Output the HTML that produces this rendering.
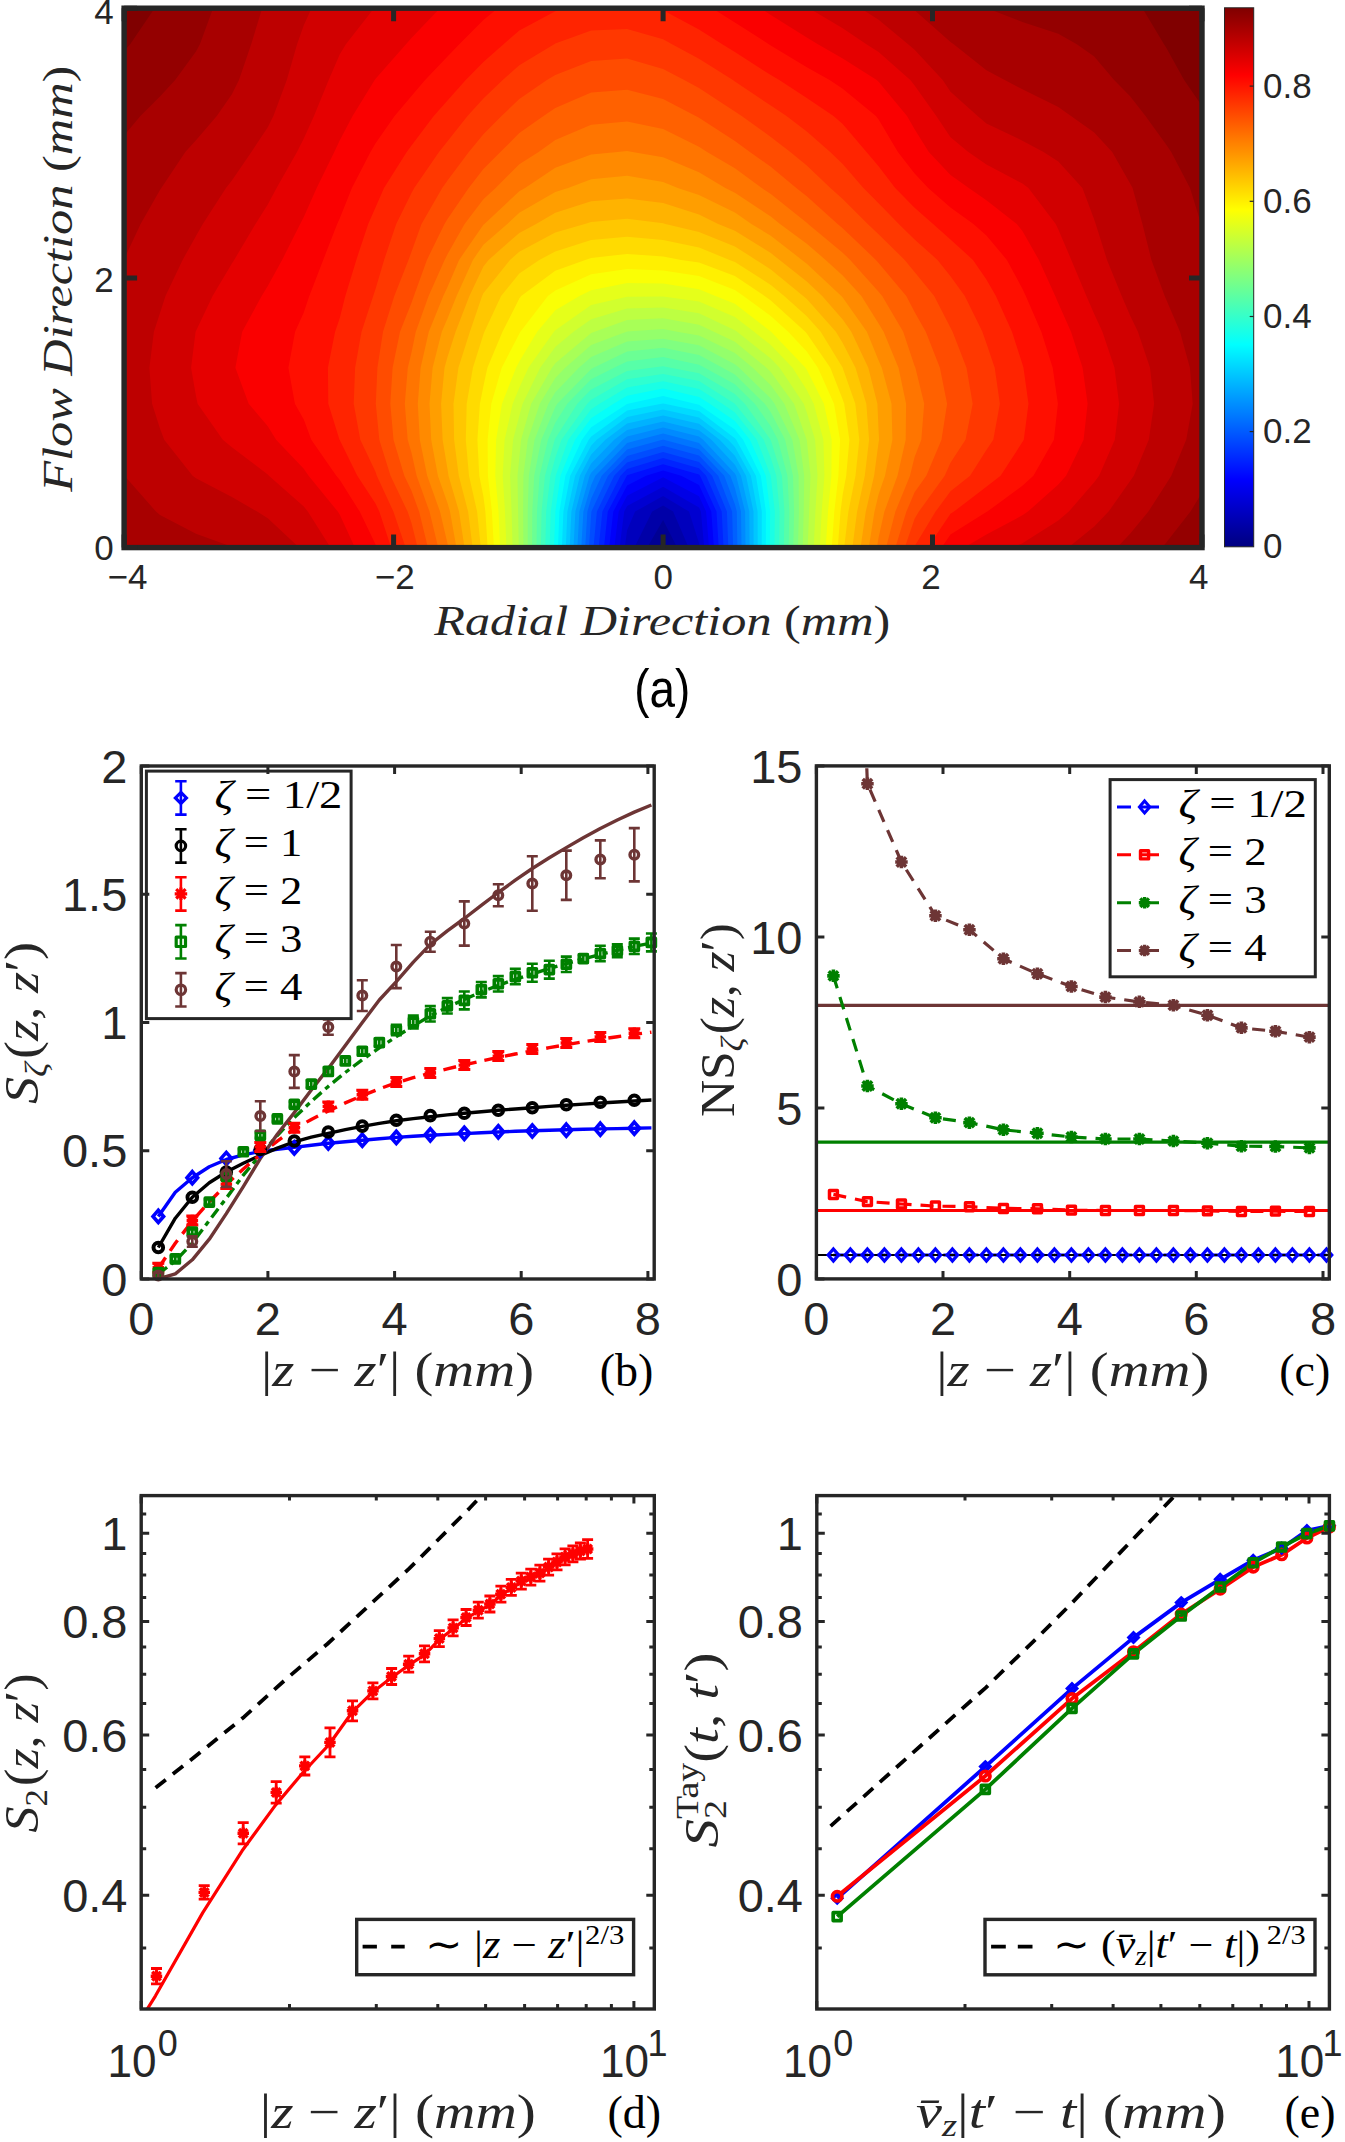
<!DOCTYPE html>
<html><head><meta charset="utf-8"><style>html,body{margin:0;padding:0;background:#fff;overflow:hidden}svg{display:block}</style></head><body>
<svg width="1345" height="2142" viewBox="0 0 1345 2142" font-family='"Liberation Sans", sans-serif'>
<clipPath id="ca"><rect x="124.1" y="8.2" width="1077.9" height="539.4"/></clipPath>
<g clip-path="url(#ca)">
<rect x="124.1" y="8.2" width="1077.9" height="539.4" fill="#000080"/>
<path d="M160 547.6L196 547.6L231.9 547.6L267.8 547.6L303.8 547.6L339.7 547.6L375.6 547.6L411.5 547.6L447.5 547.6L483.4 547.6L519.3 547.6L555.3 547.6L591.2 547.6L627.1 547.6L660.2 547.6L663.1 542.5L665.6 547.6L699 547.6L734.9 547.6L770.8 547.6L806.8 547.6L842.7 547.6L878.6 547.6L914.6 547.6L950.5 547.6L986.4 547.6L1022.4 547.6L1058.3 547.6L1094.2 547.6L1130.1 547.6L1166.1 547.6L1202 547.6L1202 511.6L1202 475.7L1202 439.7L1202 403.8L1202 367.8L1202 331.8L1202 295.9L1202 259.9L1202 224L1202 188L1202 152L1202 116.1L1202 80.1L1202 44.2L1202 8.2L1166.1 8.2L1130.1 8.2L1094.2 8.2L1058.3 8.2L1022.4 8.2L986.4 8.2L950.5 8.2L914.6 8.2L878.6 8.2L842.7 8.2L806.8 8.2L770.8 8.2L734.9 8.2L699 8.2L663.1 8.2L627.1 8.2L591.2 8.2L555.3 8.2L519.3 8.2L483.4 8.2L447.5 8.2L411.5 8.2L375.6 8.2L339.7 8.2L303.8 8.2L267.8 8.2L231.9 8.2L196 8.2L160 8.2L124.1 8.2L124.1 44.2L124.1 80.1L124.1 116.1L124.1 152L124.1 188L124.1 224L124.1 259.9L124.1 295.9L124.1 331.8L124.1 367.8L124.1 403.8L124.1 439.7L124.1 475.7L124.1 511.6L124.1 547.6Z" fill="#000094"/>
<path d="M160 547.6L196 547.6L231.9 547.6L267.8 547.6L303.8 547.6L339.7 547.6L375.6 547.6L411.5 547.6L447.5 547.6L483.4 547.6L519.3 547.6L555.3 547.6L591.2 547.6L627.1 547.6L647.3 547.6L663.1 519.9L677.1 547.6L699 547.6L734.9 547.6L770.8 547.6L806.8 547.6L842.7 547.6L878.6 547.6L914.6 547.6L950.5 547.6L986.4 547.6L1022.4 547.6L1058.3 547.6L1094.2 547.6L1130.1 547.6L1166.1 547.6L1202 547.6L1202 511.6L1202 475.7L1202 439.7L1202 403.8L1202 367.8L1202 331.8L1202 295.9L1202 259.9L1202 224L1202 188L1202 152L1202 116.1L1202 80.1L1202 44.2L1202 8.2L1166.1 8.2L1130.1 8.2L1094.2 8.2L1058.3 8.2L1022.4 8.2L986.4 8.2L950.5 8.2L914.6 8.2L878.6 8.2L842.7 8.2L806.8 8.2L770.8 8.2L734.9 8.2L699 8.2L663.1 8.2L627.1 8.2L591.2 8.2L555.3 8.2L519.3 8.2L483.4 8.2L447.5 8.2L411.5 8.2L375.6 8.2L339.7 8.2L303.8 8.2L267.8 8.2L231.9 8.2L196 8.2L160 8.2L124.1 8.2L124.1 44.2L124.1 80.1L124.1 116.1L124.1 152L124.1 188L124.1 224L124.1 259.9L124.1 295.9L124.1 331.8L124.1 367.8L124.1 403.8L124.1 439.7L124.1 475.7L124.1 511.6L124.1 547.6Z" fill="#0000a8"/>
<path d="M160 547.6L196 547.6L231.9 547.6L267.8 547.6L303.8 547.6L339.7 547.6L375.6 547.6L411.5 547.6L447.5 547.6L483.4 547.6L519.3 547.6L555.3 547.6L591.2 547.6L627.1 547.6L634.4 547.6L652.2 511.6L663.1 505.6L673.1 511.6L688.6 547.6L699 547.6L734.9 547.6L770.8 547.6L806.8 547.6L842.7 547.6L878.6 547.6L914.6 547.6L950.5 547.6L986.4 547.6L1022.4 547.6L1058.3 547.6L1094.2 547.6L1130.1 547.6L1166.1 547.6L1202 547.6L1202 511.6L1202 475.7L1202 439.7L1202 403.8L1202 367.8L1202 331.8L1202 295.9L1202 259.9L1202 224L1202 188L1202 152L1202 116.1L1202 80.1L1202 44.2L1202 8.2L1166.1 8.2L1130.1 8.2L1094.2 8.2L1058.3 8.2L1022.4 8.2L986.4 8.2L950.5 8.2L914.6 8.2L878.6 8.2L842.7 8.2L806.8 8.2L770.8 8.2L734.9 8.2L699 8.2L663.1 8.2L627.1 8.2L591.2 8.2L555.3 8.2L519.3 8.2L483.4 8.2L447.5 8.2L411.5 8.2L375.6 8.2L339.7 8.2L303.8 8.2L267.8 8.2L231.9 8.2L196 8.2L160 8.2L124.1 8.2L124.1 44.2L124.1 80.1L124.1 116.1L124.1 152L124.1 188L124.1 224L124.1 259.9L124.1 295.9L124.1 331.8L124.1 367.8L124.1 403.8L124.1 439.7L124.1 475.7L124.1 511.6L124.1 547.6Z" fill="#0000bd"/>
<path d="M160 547.6L196 547.6L231.9 547.6L267.8 547.6L303.8 547.6L339.7 547.6L375.6 547.6L411.5 547.6L447.5 547.6L483.4 547.6L519.3 547.6L555.3 547.6L591.2 547.6L624.8 547.6L627.1 530.2L635.1 511.6L663.1 496.1L689 511.6L699 543L699.4 547.6L734.9 547.6L770.8 547.6L806.8 547.6L842.7 547.6L878.6 547.6L914.6 547.6L950.5 547.6L986.4 547.6L1022.4 547.6L1058.3 547.6L1094.2 547.6L1130.1 547.6L1166.1 547.6L1202 547.6L1202 511.6L1202 475.7L1202 439.7L1202 403.8L1202 367.8L1202 331.8L1202 295.9L1202 259.9L1202 224L1202 188L1202 152L1202 116.1L1202 80.1L1202 44.2L1202 8.2L1166.1 8.2L1130.1 8.2L1094.2 8.2L1058.3 8.2L1022.4 8.2L986.4 8.2L950.5 8.2L914.6 8.2L878.6 8.2L842.7 8.2L806.8 8.2L770.8 8.2L734.9 8.2L699 8.2L663.1 8.2L627.1 8.2L591.2 8.2L555.3 8.2L519.3 8.2L483.4 8.2L447.5 8.2L411.5 8.2L375.6 8.2L339.7 8.2L303.8 8.2L267.8 8.2L231.9 8.2L196 8.2L160 8.2L124.1 8.2L124.1 44.2L124.1 80.1L124.1 116.1L124.1 152L124.1 188L124.1 224L124.1 259.9L124.1 295.9L124.1 331.8L124.1 367.8L124.1 403.8L124.1 439.7L124.1 475.7L124.1 511.6L124.1 547.6Z" fill="#0000d1"/>
<path d="M160 547.6L196 547.6L231.9 547.6L267.8 547.6L303.8 547.6L339.7 547.6L375.6 547.6L411.5 547.6L447.5 547.6L483.4 547.6L519.3 547.6L555.3 547.6L591.2 547.6L619.6 547.6L624.2 511.6L627.1 506.1L663.1 486.7L699 507.5L700.9 511.6L704.2 547.6L734.9 547.6L770.8 547.6L806.8 547.6L842.7 547.6L878.6 547.6L914.6 547.6L950.5 547.6L986.4 547.6L1022.4 547.6L1058.3 547.6L1094.2 547.6L1130.1 547.6L1166.1 547.6L1202 547.6L1202 511.6L1202 475.7L1202 439.7L1202 403.8L1202 367.8L1202 331.8L1202 295.9L1202 259.9L1202 224L1202 188L1202 152L1202 116.1L1202 80.1L1202 44.2L1202 8.2L1166.1 8.2L1130.1 8.2L1094.2 8.2L1058.3 8.2L1022.4 8.2L986.4 8.2L950.5 8.2L914.6 8.2L878.6 8.2L842.7 8.2L806.8 8.2L770.8 8.2L734.9 8.2L699 8.2L663.1 8.2L627.1 8.2L591.2 8.2L555.3 8.2L519.3 8.2L483.4 8.2L447.5 8.2L411.5 8.2L375.6 8.2L339.7 8.2L303.8 8.2L267.8 8.2L231.9 8.2L196 8.2L160 8.2L124.1 8.2L124.1 44.2L124.1 80.1L124.1 116.1L124.1 152L124.1 188L124.1 224L124.1 259.9L124.1 295.9L124.1 331.8L124.1 367.8L124.1 403.8L124.1 439.7L124.1 475.7L124.1 511.6L124.1 547.6Z" fill="#0000e6"/>
<path d="M160 547.6L196 547.6L231.9 547.6L267.8 547.6L303.8 547.6L339.7 547.6L375.6 547.6L411.5 547.6L447.5 547.6L483.4 547.6L519.3 547.6L555.3 547.6L591.2 547.6L614.4 547.6L618.7 511.6L627.1 495.8L663.1 477.2L699 496.2L706.1 511.6L709 547.6L734.9 547.6L770.8 547.6L806.8 547.6L842.7 547.6L878.6 547.6L914.6 547.6L950.5 547.6L986.4 547.6L1022.4 547.6L1058.3 547.6L1094.2 547.6L1130.1 547.6L1166.1 547.6L1202 547.6L1202 511.6L1202 475.7L1202 439.7L1202 403.8L1202 367.8L1202 331.8L1202 295.9L1202 259.9L1202 224L1202 188L1202 152L1202 116.1L1202 80.1L1202 44.2L1202 8.2L1166.1 8.2L1130.1 8.2L1094.2 8.2L1058.3 8.2L1022.4 8.2L986.4 8.2L950.5 8.2L914.6 8.2L878.6 8.2L842.7 8.2L806.8 8.2L770.8 8.2L734.9 8.2L699 8.2L663.1 8.2L627.1 8.2L591.2 8.2L555.3 8.2L519.3 8.2L483.4 8.2L447.5 8.2L411.5 8.2L375.6 8.2L339.7 8.2L303.8 8.2L267.8 8.2L231.9 8.2L196 8.2L160 8.2L124.1 8.2L124.1 44.2L124.1 80.1L124.1 116.1L124.1 152L124.1 188L124.1 224L124.1 259.9L124.1 295.9L124.1 331.8L124.1 367.8L124.1 403.8L124.1 439.7L124.1 475.7L124.1 511.6L124.1 547.6Z" fill="#0000fa"/>
<path d="M160 547.6L196 547.6L231.9 547.6L267.8 547.6L303.8 547.6L339.7 547.6L375.6 547.6L411.5 547.6L447.5 547.6L483.4 547.6L519.3 547.6L555.3 547.6L591.2 547.6L609.2 547.6L613.3 511.6L627.1 485.5L646.1 475.7L663.1 470.5L681.2 475.7L699 485L711.3 511.6L713.9 547.6L734.9 547.6L770.8 547.6L806.8 547.6L842.7 547.6L878.6 547.6L914.6 547.6L950.5 547.6L986.4 547.6L1022.4 547.6L1058.3 547.6L1094.2 547.6L1130.1 547.6L1166.1 547.6L1202 547.6L1202 511.6L1202 475.7L1202 439.7L1202 403.8L1202 367.8L1202 331.8L1202 295.9L1202 259.9L1202 224L1202 188L1202 152L1202 116.1L1202 80.1L1202 44.2L1202 8.2L1166.1 8.2L1130.1 8.2L1094.2 8.2L1058.3 8.2L1022.4 8.2L986.4 8.2L950.5 8.2L914.6 8.2L878.6 8.2L842.7 8.2L806.8 8.2L770.8 8.2L734.9 8.2L699 8.2L663.1 8.2L627.1 8.2L591.2 8.2L555.3 8.2L519.3 8.2L483.4 8.2L447.5 8.2L411.5 8.2L375.6 8.2L339.7 8.2L303.8 8.2L267.8 8.2L231.9 8.2L196 8.2L160 8.2L124.1 8.2L124.1 44.2L124.1 80.1L124.1 116.1L124.1 152L124.1 188L124.1 224L124.1 259.9L124.1 295.9L124.1 331.8L124.1 367.8L124.1 403.8L124.1 439.7L124.1 475.7L124.1 511.6L124.1 547.6Z" fill="#000fff"/>
<path d="M160 547.6L196 547.6L231.9 547.6L267.8 547.6L303.8 547.6L339.7 547.6L375.6 547.6L411.5 547.6L447.5 547.6L483.4 547.6L519.3 547.6L555.3 547.6L591.2 547.6L604 547.6L607.8 511.6L626.8 475.7L627.1 475.3L663.1 464.3L699 474.6L700 475.7L716.5 511.6L718.7 547.6L734.9 547.6L770.8 547.6L806.8 547.6L842.7 547.6L878.6 547.6L914.6 547.6L950.5 547.6L986.4 547.6L1022.4 547.6L1058.3 547.6L1094.2 547.6L1130.1 547.6L1166.1 547.6L1202 547.6L1202 511.6L1202 475.7L1202 439.7L1202 403.8L1202 367.8L1202 331.8L1202 295.9L1202 259.9L1202 224L1202 188L1202 152L1202 116.1L1202 80.1L1202 44.2L1202 8.2L1166.1 8.2L1130.1 8.2L1094.2 8.2L1058.3 8.2L1022.4 8.2L986.4 8.2L950.5 8.2L914.6 8.2L878.6 8.2L842.7 8.2L806.8 8.2L770.8 8.2L734.9 8.2L699 8.2L663.1 8.2L627.1 8.2L591.2 8.2L555.3 8.2L519.3 8.2L483.4 8.2L447.5 8.2L411.5 8.2L375.6 8.2L339.7 8.2L303.8 8.2L267.8 8.2L231.9 8.2L196 8.2L160 8.2L124.1 8.2L124.1 44.2L124.1 80.1L124.1 116.1L124.1 152L124.1 188L124.1 224L124.1 259.9L124.1 295.9L124.1 331.8L124.1 367.8L124.1 403.8L124.1 439.7L124.1 475.7L124.1 511.6L124.1 547.6Z" fill="#0024ff"/>
<path d="M160 547.6L196 547.6L231.9 547.6L267.8 547.6L303.8 547.6L339.7 547.6L375.6 547.6L411.5 547.6L447.5 547.6L483.4 547.6L519.3 547.6L555.3 547.6L591.2 547.6L598.7 547.6L602.4 511.6L620.5 475.7L627.1 468.9L663.1 458.1L699 468.3L706.1 475.7L721.7 511.6L723.5 547.6L734.9 547.6L770.8 547.6L806.8 547.6L842.7 547.6L878.6 547.6L914.6 547.6L950.5 547.6L986.4 547.6L1022.4 547.6L1058.3 547.6L1094.2 547.6L1130.1 547.6L1166.1 547.6L1202 547.6L1202 511.6L1202 475.7L1202 439.7L1202 403.8L1202 367.8L1202 331.8L1202 295.9L1202 259.9L1202 224L1202 188L1202 152L1202 116.1L1202 80.1L1202 44.2L1202 8.2L1166.1 8.2L1130.1 8.2L1094.2 8.2L1058.3 8.2L1022.4 8.2L986.4 8.2L950.5 8.2L914.6 8.2L878.6 8.2L842.7 8.2L806.8 8.2L770.8 8.2L734.9 8.2L699 8.2L663.1 8.2L627.1 8.2L591.2 8.2L555.3 8.2L519.3 8.2L483.4 8.2L447.5 8.2L411.5 8.2L375.6 8.2L339.7 8.2L303.8 8.2L267.8 8.2L231.9 8.2L196 8.2L160 8.2L124.1 8.2L124.1 44.2L124.1 80.1L124.1 116.1L124.1 152L124.1 188L124.1 224L124.1 259.9L124.1 295.9L124.1 331.8L124.1 367.8L124.1 403.8L124.1 439.7L124.1 475.7L124.1 511.6L124.1 547.6Z" fill="#0038ff"/>
<path d="M160 547.6L196 547.6L231.9 547.6L267.8 547.6L303.8 547.6L339.7 547.6L375.6 547.6L411.5 547.6L447.5 547.6L483.4 547.6L519.3 547.6L555.3 547.6L591.2 547.6L593.5 547.6L596.9 511.6L614.2 475.7L627.1 462.4L663.1 451.9L699 461.9L712.1 475.7L726.9 511.6L728.3 547.6L734.9 547.6L770.8 547.6L806.8 547.6L842.7 547.6L878.6 547.6L914.6 547.6L950.5 547.6L986.4 547.6L1022.4 547.6L1058.3 547.6L1094.2 547.6L1130.1 547.6L1166.1 547.6L1202 547.6L1202 511.6L1202 475.7L1202 439.7L1202 403.8L1202 367.8L1202 331.8L1202 295.9L1202 259.9L1202 224L1202 188L1202 152L1202 116.1L1202 80.1L1202 44.2L1202 8.2L1166.1 8.2L1130.1 8.2L1094.2 8.2L1058.3 8.2L1022.4 8.2L986.4 8.2L950.5 8.2L914.6 8.2L878.6 8.2L842.7 8.2L806.8 8.2L770.8 8.2L734.9 8.2L699 8.2L663.1 8.2L627.1 8.2L591.2 8.2L555.3 8.2L519.3 8.2L483.4 8.2L447.5 8.2L411.5 8.2L375.6 8.2L339.7 8.2L303.8 8.2L267.8 8.2L231.9 8.2L196 8.2L160 8.2L124.1 8.2L124.1 44.2L124.1 80.1L124.1 116.1L124.1 152L124.1 188L124.1 224L124.1 259.9L124.1 295.9L124.1 331.8L124.1 367.8L124.1 403.8L124.1 439.7L124.1 475.7L124.1 511.6L124.1 547.6Z" fill="#004dff"/>
<path d="M160 547.6L196 547.6L231.9 547.6L267.8 547.6L303.8 547.6L339.7 547.6L375.6 547.6L411.5 547.6L447.5 547.6L483.4 547.6L519.3 547.6L555.3 547.6L589 547.6L591.2 514.3L591.4 511.6L608 475.7L627.1 456L663.1 445.7L699 455.6L718.2 475.7L732.1 511.6L733.1 547.6L734.9 547.6L770.8 547.6L806.8 547.6L842.7 547.6L878.6 547.6L914.6 547.6L950.5 547.6L986.4 547.6L1022.4 547.6L1058.3 547.6L1094.2 547.6L1130.1 547.6L1166.1 547.6L1202 547.6L1202 511.6L1202 475.7L1202 439.7L1202 403.8L1202 367.8L1202 331.8L1202 295.9L1202 259.9L1202 224L1202 188L1202 152L1202 116.1L1202 80.1L1202 44.2L1202 8.2L1166.1 8.2L1130.1 8.2L1094.2 8.2L1058.3 8.2L1022.4 8.2L986.4 8.2L950.5 8.2L914.6 8.2L878.6 8.2L842.7 8.2L806.8 8.2L770.8 8.2L734.9 8.2L699 8.2L663.1 8.2L627.1 8.2L591.2 8.2L555.3 8.2L519.3 8.2L483.4 8.2L447.5 8.2L411.5 8.2L375.6 8.2L339.7 8.2L303.8 8.2L267.8 8.2L231.9 8.2L196 8.2L160 8.2L124.1 8.2L124.1 44.2L124.1 80.1L124.1 116.1L124.1 152L124.1 188L124.1 224L124.1 259.9L124.1 295.9L124.1 331.8L124.1 367.8L124.1 403.8L124.1 439.7L124.1 475.7L124.1 511.6L124.1 547.6Z" fill="#0061ff"/>
<path d="M160 547.6L196 547.6L231.9 547.6L267.8 547.6L303.8 547.6L339.7 547.6L375.6 547.6L411.5 547.6L447.5 547.6L483.4 547.6L519.3 547.6L555.3 547.6L585.2 547.6L587.4 511.6L591.2 498.6L601.7 475.7L627.1 449.5L662.4 439.7L663.1 439.6L663.7 439.7L699 449.3L724.2 475.7L734.9 504.2L736.8 511.6L737.4 547.6L770.8 547.6L806.8 547.6L842.7 547.6L878.6 547.6L914.6 547.6L950.5 547.6L986.4 547.6L1022.4 547.6L1058.3 547.6L1094.2 547.6L1130.1 547.6L1166.1 547.6L1202 547.6L1202 511.6L1202 475.7L1202 439.7L1202 403.8L1202 367.8L1202 331.8L1202 295.9L1202 259.9L1202 224L1202 188L1202 152L1202 116.1L1202 80.1L1202 44.2L1202 8.2L1166.1 8.2L1130.1 8.2L1094.2 8.2L1058.3 8.2L1022.4 8.2L986.4 8.2L950.5 8.2L914.6 8.2L878.6 8.2L842.7 8.2L806.8 8.2L770.8 8.2L734.9 8.2L699 8.2L663.1 8.2L627.1 8.2L591.2 8.2L555.3 8.2L519.3 8.2L483.4 8.2L447.5 8.2L411.5 8.2L375.6 8.2L339.7 8.2L303.8 8.2L267.8 8.2L231.9 8.2L196 8.2L160 8.2L124.1 8.2L124.1 44.2L124.1 80.1L124.1 116.1L124.1 152L124.1 188L124.1 224L124.1 259.9L124.1 295.9L124.1 331.8L124.1 367.8L124.1 403.8L124.1 439.7L124.1 475.7L124.1 511.6L124.1 547.6Z" fill="#0075ff"/>
<path d="M160 547.6L196 547.6L231.9 547.6L267.8 547.6L303.8 547.6L339.7 547.6L375.6 547.6L411.5 547.6L447.5 547.6L483.4 547.6L519.3 547.6L555.3 547.6L581.3 547.6L583.4 511.6L591.2 484.9L595.4 475.7L627.1 443.1L639.2 439.7L663.1 433.5L687 439.7L699 443L730.3 475.7L734.9 488L741 511.6L741.5 547.6L770.8 547.6L806.8 547.6L842.7 547.6L878.6 547.6L914.6 547.6L950.5 547.6L986.4 547.6L1022.4 547.6L1058.3 547.6L1094.2 547.6L1130.1 547.6L1166.1 547.6L1202 547.6L1202 511.6L1202 475.7L1202 439.7L1202 403.8L1202 367.8L1202 331.8L1202 295.9L1202 259.9L1202 224L1202 188L1202 152L1202 116.1L1202 80.1L1202 44.2L1202 8.2L1166.1 8.2L1130.1 8.2L1094.2 8.2L1058.3 8.2L1022.4 8.2L986.4 8.2L950.5 8.2L914.6 8.2L878.6 8.2L842.7 8.2L806.8 8.2L770.8 8.2L734.9 8.2L699 8.2L663.1 8.2L627.1 8.2L591.2 8.2L555.3 8.2L519.3 8.2L483.4 8.2L447.5 8.2L411.5 8.2L375.6 8.2L339.7 8.2L303.8 8.2L267.8 8.2L231.9 8.2L196 8.2L160 8.2L124.1 8.2L124.1 44.2L124.1 80.1L124.1 116.1L124.1 152L124.1 188L124.1 224L124.1 259.9L124.1 295.9L124.1 331.8L124.1 367.8L124.1 403.8L124.1 439.7L124.1 475.7L124.1 511.6L124.1 547.6Z" fill="#008aff"/>
<path d="M160 547.6L196 547.6L231.9 547.6L267.8 547.6L303.8 547.6L339.7 547.6L375.6 547.6L411.5 547.6L447.5 547.6L483.4 547.6L519.3 547.6L555.3 547.6L577.4 547.6L579.4 511.6L589.6 475.7L591.2 472.7L622.9 439.7L627.1 436.6L663.1 427.5L699 436.6L703.1 439.7L734.9 473.6L736.1 475.7L745.1 511.6L745.5 547.6L770.8 547.6L806.8 547.6L842.7 547.6L878.6 547.6L914.6 547.6L950.5 547.6L986.4 547.6L1022.4 547.6L1058.3 547.6L1094.2 547.6L1130.1 547.6L1166.1 547.6L1202 547.6L1202 511.6L1202 475.7L1202 439.7L1202 403.8L1202 367.8L1202 331.8L1202 295.9L1202 259.9L1202 224L1202 188L1202 152L1202 116.1L1202 80.1L1202 44.2L1202 8.2L1166.1 8.2L1130.1 8.2L1094.2 8.2L1058.3 8.2L1022.4 8.2L986.4 8.2L950.5 8.2L914.6 8.2L878.6 8.2L842.7 8.2L806.8 8.2L770.8 8.2L734.9 8.2L699 8.2L663.1 8.2L627.1 8.2L591.2 8.2L555.3 8.2L519.3 8.2L483.4 8.2L447.5 8.2L411.5 8.2L375.6 8.2L339.7 8.2L303.8 8.2L267.8 8.2L231.9 8.2L196 8.2L160 8.2L124.1 8.2L124.1 44.2L124.1 80.1L124.1 116.1L124.1 152L124.1 188L124.1 224L124.1 259.9L124.1 295.9L124.1 331.8L124.1 367.8L124.1 403.8L124.1 439.7L124.1 475.7L124.1 511.6L124.1 547.6Z" fill="#009eff"/>
<path d="M160 547.6L196 547.6L231.9 547.6L267.8 547.6L303.8 547.6L339.7 547.6L375.6 547.6L411.5 547.6L447.5 547.6L483.4 547.6L519.3 547.6L555.3 547.6L573.5 547.6L575.4 511.6L584.8 475.7L591.2 463.6L614.2 439.7L627.1 430L663.1 421.5L699 430.2L711.4 439.7L734.9 464.7L741 475.7L749.3 511.6L749.6 547.6L770.8 547.6L806.8 547.6L842.7 547.6L878.6 547.6L914.6 547.6L950.5 547.6L986.4 547.6L1022.4 547.6L1058.3 547.6L1094.2 547.6L1130.1 547.6L1166.1 547.6L1202 547.6L1202 511.6L1202 475.7L1202 439.7L1202 403.8L1202 367.8L1202 331.8L1202 295.9L1202 259.9L1202 224L1202 188L1202 152L1202 116.1L1202 80.1L1202 44.2L1202 8.2L1166.1 8.2L1130.1 8.2L1094.2 8.2L1058.3 8.2L1022.4 8.2L986.4 8.2L950.5 8.2L914.6 8.2L878.6 8.2L842.7 8.2L806.8 8.2L770.8 8.2L734.9 8.2L699 8.2L663.1 8.2L627.1 8.2L591.2 8.2L555.3 8.2L519.3 8.2L483.4 8.2L447.5 8.2L411.5 8.2L375.6 8.2L339.7 8.2L303.8 8.2L267.8 8.2L231.9 8.2L196 8.2L160 8.2L124.1 8.2L124.1 44.2L124.1 80.1L124.1 116.1L124.1 152L124.1 188L124.1 224L124.1 259.9L124.1 295.9L124.1 331.8L124.1 367.8L124.1 403.8L124.1 439.7L124.1 475.7L124.1 511.6L124.1 547.6Z" fill="#00b2ff"/>
<path d="M160 547.6L196 547.6L231.9 547.6L267.8 547.6L303.8 547.6L339.7 547.6L375.6 547.6L411.5 547.6L447.5 547.6L483.4 547.6L519.3 547.6L555.3 547.6L569.7 547.6L571.4 511.6L579.9 475.7L591.2 454.5L605.4 439.7L627.1 423.5L663.1 415.5L699 423.8L719.7 439.7L734.9 455.8L746 475.7L753.5 511.6L753.6 547.6L770.8 547.6L806.8 547.6L842.7 547.6L878.6 547.6L914.6 547.6L950.5 547.6L986.4 547.6L1022.4 547.6L1058.3 547.6L1094.2 547.6L1130.1 547.6L1166.1 547.6L1202 547.6L1202 511.6L1202 475.7L1202 439.7L1202 403.8L1202 367.8L1202 331.8L1202 295.9L1202 259.9L1202 224L1202 188L1202 152L1202 116.1L1202 80.1L1202 44.2L1202 8.2L1166.1 8.2L1130.1 8.2L1094.2 8.2L1058.3 8.2L1022.4 8.2L986.4 8.2L950.5 8.2L914.6 8.2L878.6 8.2L842.7 8.2L806.8 8.2L770.8 8.2L734.9 8.2L699 8.2L663.1 8.2L627.1 8.2L591.2 8.2L555.3 8.2L519.3 8.2L483.4 8.2L447.5 8.2L411.5 8.2L375.6 8.2L339.7 8.2L303.8 8.2L267.8 8.2L231.9 8.2L196 8.2L160 8.2L124.1 8.2L124.1 44.2L124.1 80.1L124.1 116.1L124.1 152L124.1 188L124.1 224L124.1 259.9L124.1 295.9L124.1 331.8L124.1 367.8L124.1 403.8L124.1 439.7L124.1 475.7L124.1 511.6L124.1 547.6Z" fill="#00c7ff"/>
<path d="M160 547.6L196 547.6L231.9 547.6L267.8 547.6L303.8 547.6L339.7 547.6L375.6 547.6L411.5 547.6L447.5 547.6L483.4 547.6L519.3 547.6L555.3 547.6L565.8 547.6L567.4 511.6L575.1 475.7L591.2 445.5L596.7 439.7L627.1 417L663.1 409.5L699 417.4L728.1 439.7L734.9 447L750.9 475.7L757.6 511.6L757.7 547.6L770.8 547.6L806.8 547.6L842.7 547.6L878.6 547.6L914.6 547.6L950.5 547.6L986.4 547.6L1022.4 547.6L1058.3 547.6L1094.2 547.6L1130.1 547.6L1166.1 547.6L1202 547.6L1202 511.6L1202 475.7L1202 439.7L1202 403.8L1202 367.8L1202 331.8L1202 295.9L1202 259.9L1202 224L1202 188L1202 152L1202 116.1L1202 80.1L1202 44.2L1202 8.2L1166.1 8.2L1130.1 8.2L1094.2 8.2L1058.3 8.2L1022.4 8.2L986.4 8.2L950.5 8.2L914.6 8.2L878.6 8.2L842.7 8.2L806.8 8.2L770.8 8.2L734.9 8.2L699 8.2L663.1 8.2L627.1 8.2L591.2 8.2L555.3 8.2L519.3 8.2L483.4 8.2L447.5 8.2L411.5 8.2L375.6 8.2L339.7 8.2L303.8 8.2L267.8 8.2L231.9 8.2L196 8.2L160 8.2L124.1 8.2L124.1 44.2L124.1 80.1L124.1 116.1L124.1 152L124.1 188L124.1 224L124.1 259.9L124.1 295.9L124.1 331.8L124.1 367.8L124.1 403.8L124.1 439.7L124.1 475.7L124.1 511.6L124.1 547.6Z" fill="#00dbff"/>
<path d="M160 547.6L196 547.6L231.9 547.6L267.8 547.6L303.8 547.6L339.7 547.6L375.6 547.6L411.5 547.6L447.5 547.6L483.4 547.6L519.3 547.6L555.3 547.6L561.9 547.6L563.4 511.6L570.2 475.7L588.7 439.7L591.2 436.4L627.1 410.5L661.4 403.8L663.1 403.4L664.6 403.8L699 411.1L734.9 438.2L736.2 439.7L755.9 475.7L761.8 511.6L761.7 547.6L770.8 547.6L806.8 547.6L842.7 547.6L878.6 547.6L914.6 547.6L950.5 547.6L986.4 547.6L1022.4 547.6L1058.3 547.6L1094.2 547.6L1130.1 547.6L1166.1 547.6L1202 547.6L1202 511.6L1202 475.7L1202 439.7L1202 403.8L1202 367.8L1202 331.8L1202 295.9L1202 259.9L1202 224L1202 188L1202 152L1202 116.1L1202 80.1L1202 44.2L1202 8.2L1166.1 8.2L1130.1 8.2L1094.2 8.2L1058.3 8.2L1022.4 8.2L986.4 8.2L950.5 8.2L914.6 8.2L878.6 8.2L842.7 8.2L806.8 8.2L770.8 8.2L734.9 8.2L699 8.2L663.1 8.2L627.1 8.2L591.2 8.2L555.3 8.2L519.3 8.2L483.4 8.2L447.5 8.2L411.5 8.2L375.6 8.2L339.7 8.2L303.8 8.2L267.8 8.2L231.9 8.2L196 8.2L160 8.2L124.1 8.2L124.1 44.2L124.1 80.1L124.1 116.1L124.1 152L124.1 188L124.1 224L124.1 259.9L124.1 295.9L124.1 331.8L124.1 367.8L124.1 403.8L124.1 439.7L124.1 475.7L124.1 511.6L124.1 547.6Z" fill="#00f0ff"/>
<path d="M160 547.6L196 547.6L231.9 547.6L267.8 547.6L303.8 547.6L339.7 547.6L375.6 547.6L411.5 547.6L447.5 547.6L483.4 547.6L519.3 547.6L555.3 547.6L558 547.6L559.4 511.6L565.4 475.7L581.9 439.7L591.2 427.3L627.1 403.9L628 403.8L663.1 396L694.7 403.8L699 404.7L734.9 429.6L743.1 439.7L760.8 475.7L765.9 511.6L765.8 547.6L770.8 547.6L806.8 547.6L842.7 547.6L878.6 547.6L914.6 547.6L950.5 547.6L986.4 547.6L1022.4 547.6L1058.3 547.6L1094.2 547.6L1130.1 547.6L1166.1 547.6L1202 547.6L1202 511.6L1202 475.7L1202 439.7L1202 403.8L1202 367.8L1202 331.8L1202 295.9L1202 259.9L1202 224L1202 188L1202 152L1202 116.1L1202 80.1L1202 44.2L1202 8.2L1166.1 8.2L1130.1 8.2L1094.2 8.2L1058.3 8.2L1022.4 8.2L986.4 8.2L950.5 8.2L914.6 8.2L878.6 8.2L842.7 8.2L806.8 8.2L770.8 8.2L734.9 8.2L699 8.2L663.1 8.2L627.1 8.2L591.2 8.2L555.3 8.2L519.3 8.2L483.4 8.2L447.5 8.2L411.5 8.2L375.6 8.2L339.7 8.2L303.8 8.2L267.8 8.2L231.9 8.2L196 8.2L160 8.2L124.1 8.2L124.1 44.2L124.1 80.1L124.1 116.1L124.1 152L124.1 188L124.1 224L124.1 259.9L124.1 295.9L124.1 331.8L124.1 367.8L124.1 403.8L124.1 439.7L124.1 475.7L124.1 511.6L124.1 547.6Z" fill="#05fffa"/>
<path d="M160 547.6L196 547.6L231.9 547.6L267.8 547.6L303.8 547.6L339.7 547.6L375.6 547.6L411.5 547.6L447.5 547.6L483.4 547.6L519.3 547.6L554 547.6L555.3 516L555.4 511.6L560.5 475.7L575.1 439.7L591.2 418.3L613.6 403.8L627.1 395.7L663.1 388.6L699 397L709.7 403.8L734.9 421L749.9 439.7L765.8 475.7L770.1 511.6L769.8 547.6L770.8 547.6L806.8 547.6L842.7 547.6L878.6 547.6L914.6 547.6L950.5 547.6L986.4 547.6L1022.4 547.6L1058.3 547.6L1094.2 547.6L1130.1 547.6L1166.1 547.6L1202 547.6L1202 511.6L1202 475.7L1202 439.7L1202 403.8L1202 367.8L1202 331.8L1202 295.9L1202 259.9L1202 224L1202 188L1202 152L1202 116.1L1202 80.1L1202 44.2L1202 8.2L1166.1 8.2L1130.1 8.2L1094.2 8.2L1058.3 8.2L1022.4 8.2L986.4 8.2L950.5 8.2L914.6 8.2L878.6 8.2L842.7 8.2L806.8 8.2L770.8 8.2L734.9 8.2L699 8.2L663.1 8.2L627.1 8.2L591.2 8.2L555.3 8.2L519.3 8.2L483.4 8.2L447.5 8.2L411.5 8.2L375.6 8.2L339.7 8.2L303.8 8.2L267.8 8.2L231.9 8.2L196 8.2L160 8.2L124.1 8.2L124.1 44.2L124.1 80.1L124.1 116.1L124.1 152L124.1 188L124.1 224L124.1 259.9L124.1 295.9L124.1 331.8L124.1 367.8L124.1 403.8L124.1 439.7L124.1 475.7L124.1 511.6L124.1 547.6Z" fill="#1affe5"/>
<path d="M160 547.6L196 547.6L231.9 547.6L267.8 547.6L303.8 547.6L339.7 547.6L375.6 547.6L411.5 547.6L447.5 547.6L483.4 547.6L519.3 547.6L549.7 547.6L550.8 511.6L555.3 478.8L555.7 475.7L568.3 439.7L591.2 409.3L599.6 403.8L627.1 387.4L663.1 381.2L699 389L722.3 403.8L734.9 412.4L756.8 439.7L770.7 475.7L770.8 476.8L774.8 511.6L774.4 547.6L806.8 547.6L842.7 547.6L878.6 547.6L914.6 547.6L950.5 547.6L986.4 547.6L1022.4 547.6L1058.3 547.6L1094.2 547.6L1130.1 547.6L1166.1 547.6L1202 547.6L1202 511.6L1202 475.7L1202 439.7L1202 403.8L1202 367.8L1202 331.8L1202 295.9L1202 259.9L1202 224L1202 188L1202 152L1202 116.1L1202 80.1L1202 44.2L1202 8.2L1166.1 8.2L1130.1 8.2L1094.2 8.2L1058.3 8.2L1022.4 8.2L986.4 8.2L950.5 8.2L914.6 8.2L878.6 8.2L842.7 8.2L806.8 8.2L770.8 8.2L734.9 8.2L699 8.2L663.1 8.2L627.1 8.2L591.2 8.2L555.3 8.2L519.3 8.2L483.4 8.2L447.5 8.2L411.5 8.2L375.6 8.2L339.7 8.2L303.8 8.2L267.8 8.2L231.9 8.2L196 8.2L160 8.2L124.1 8.2L124.1 44.2L124.1 80.1L124.1 116.1L124.1 152L124.1 188L124.1 224L124.1 259.9L124.1 295.9L124.1 331.8L124.1 367.8L124.1 403.8L124.1 439.7L124.1 475.7L124.1 511.6L124.1 547.6Z" fill="#2effd1"/>
<path d="M160 547.6L196 547.6L231.9 547.6L267.8 547.6L303.8 547.6L339.7 547.6L375.6 547.6L411.5 547.6L447.5 547.6L483.4 547.6L519.3 547.6L545.3 547.6L546.2 511.6L550.4 475.7L555.3 457.8L561.5 439.7L587.3 403.8L591.2 399.7L627.1 379.2L663.1 373.9L699 381.1L734.9 403.8L734.9 403.8L763.7 439.7L770.8 458.2L776.3 475.7L779.6 511.6L779.1 547.6L806.8 547.6L842.7 547.6L878.6 547.6L914.6 547.6L950.5 547.6L986.4 547.6L1022.4 547.6L1058.3 547.6L1094.2 547.6L1130.1 547.6L1166.1 547.6L1202 547.6L1202 511.6L1202 475.7L1202 439.7L1202 403.8L1202 367.8L1202 331.8L1202 295.9L1202 259.9L1202 224L1202 188L1202 152L1202 116.1L1202 80.1L1202 44.2L1202 8.2L1166.1 8.2L1130.1 8.2L1094.2 8.2L1058.3 8.2L1022.4 8.2L986.4 8.2L950.5 8.2L914.6 8.2L878.6 8.2L842.7 8.2L806.8 8.2L770.8 8.2L734.9 8.2L699 8.2L663.1 8.2L627.1 8.2L591.2 8.2L555.3 8.2L519.3 8.2L483.4 8.2L447.5 8.2L411.5 8.2L375.6 8.2L339.7 8.2L303.8 8.2L267.8 8.2L231.9 8.2L196 8.2L160 8.2L124.1 8.2L124.1 44.2L124.1 80.1L124.1 116.1L124.1 152L124.1 188L124.1 224L124.1 259.9L124.1 295.9L124.1 331.8L124.1 367.8L124.1 403.8L124.1 439.7L124.1 475.7L124.1 511.6L124.1 547.6Z" fill="#42ffbd"/>
<path d="M160 547.6L196 547.6L231.9 547.6L267.8 547.6L303.8 547.6L339.7 547.6L375.6 547.6L411.5 547.6L447.5 547.6L483.4 547.6L519.3 547.6L540.9 547.6L541.6 511.6L545 475.7L554.7 439.7L555.3 438.5L577.3 403.8L591.2 389.5L627.1 370.9L651.4 367.8L663.1 366.2L670.6 367.8L699 373.2L734.9 394L744.8 403.8L770.6 439.7L770.8 440.3L781.9 475.7L784.4 511.6L783.8 547.6L806.8 547.6L842.7 547.6L878.6 547.6L914.6 547.6L950.5 547.6L986.4 547.6L1022.4 547.6L1058.3 547.6L1094.2 547.6L1130.1 547.6L1166.1 547.6L1202 547.6L1202 511.6L1202 475.7L1202 439.7L1202 403.8L1202 367.8L1202 331.8L1202 295.9L1202 259.9L1202 224L1202 188L1202 152L1202 116.1L1202 80.1L1202 44.2L1202 8.2L1166.1 8.2L1130.1 8.2L1094.2 8.2L1058.3 8.2L1022.4 8.2L986.4 8.2L950.5 8.2L914.6 8.2L878.6 8.2L842.7 8.2L806.8 8.2L770.8 8.2L734.9 8.2L699 8.2L663.1 8.2L627.1 8.2L591.2 8.2L555.3 8.2L519.3 8.2L483.4 8.2L447.5 8.2L411.5 8.2L375.6 8.2L339.7 8.2L303.8 8.2L267.8 8.2L231.9 8.2L196 8.2L160 8.2L124.1 8.2L124.1 44.2L124.1 80.1L124.1 116.1L124.1 152L124.1 188L124.1 224L124.1 259.9L124.1 295.9L124.1 331.8L124.1 367.8L124.1 403.8L124.1 439.7L124.1 475.7L124.1 511.6L124.1 547.6Z" fill="#57ffa8"/>
<path d="M160 547.6L196 547.6L231.9 547.6L267.8 547.6L303.8 547.6L339.7 547.6L375.6 547.6L411.5 547.6L447.5 547.6L483.4 547.6L519.3 547.6L536.5 547.6L537 511.6L539.6 475.7L548 439.7L555.3 422.7L567.3 403.8L591.2 379.2L614.1 367.8L627.1 361.5L663.1 357L699 364.7L704.7 367.8L734.9 384.3L754.8 403.8L770.8 426.2L777.8 439.7L787.4 475.7L789.3 511.6L788.6 547.6L806.8 547.6L842.7 547.6L878.6 547.6L914.6 547.6L950.5 547.6L986.4 547.6L1022.4 547.6L1058.3 547.6L1094.2 547.6L1130.1 547.6L1166.1 547.6L1202 547.6L1202 511.6L1202 475.7L1202 439.7L1202 403.8L1202 367.8L1202 331.8L1202 295.9L1202 259.9L1202 224L1202 188L1202 152L1202 116.1L1202 80.1L1202 44.2L1202 8.2L1166.1 8.2L1130.1 8.2L1094.2 8.2L1058.3 8.2L1022.4 8.2L986.4 8.2L950.5 8.2L914.6 8.2L878.6 8.2L842.7 8.2L806.8 8.2L770.8 8.2L734.9 8.2L699 8.2L663.1 8.2L627.1 8.2L591.2 8.2L555.3 8.2L519.3 8.2L483.4 8.2L447.5 8.2L411.5 8.2L375.6 8.2L339.7 8.2L303.8 8.2L267.8 8.2L231.9 8.2L196 8.2L160 8.2L124.1 8.2L124.1 44.2L124.1 80.1L124.1 116.1L124.1 152L124.1 188L124.1 224L124.1 259.9L124.1 295.9L124.1 331.8L124.1 367.8L124.1 403.8L124.1 439.7L124.1 475.7L124.1 511.6L124.1 547.6Z" fill="#6bff94"/>
<path d="M160 547.6L196 547.6L231.9 547.6L267.8 547.6L303.8 547.6L339.7 547.6L375.6 547.6L411.5 547.6L447.5 547.6L483.4 547.6L519.3 547.6L532.1 547.6L532.3 511.6L534.2 475.7L541.3 439.7L555.3 406.9L557.3 403.8L591.2 368.9L593.5 367.8L627.1 351.6L663.1 347.8L699 355L722.6 367.8L734.9 374.5L764.8 403.8L770.8 412.3L785.1 439.7L793 475.7L794.1 511.6L793.3 547.6L806.8 547.6L842.7 547.6L878.6 547.6L914.6 547.6L950.5 547.6L986.4 547.6L1022.4 547.6L1058.3 547.6L1094.2 547.6L1130.1 547.6L1166.1 547.6L1202 547.6L1202 511.6L1202 475.7L1202 439.7L1202 403.8L1202 367.8L1202 331.8L1202 295.9L1202 259.9L1202 224L1202 188L1202 152L1202 116.1L1202 80.1L1202 44.2L1202 8.2L1166.1 8.2L1130.1 8.2L1094.2 8.2L1058.3 8.2L1022.4 8.2L986.4 8.2L950.5 8.2L914.6 8.2L878.6 8.2L842.7 8.2L806.8 8.2L770.8 8.2L734.9 8.2L699 8.2L663.1 8.2L627.1 8.2L591.2 8.2L555.3 8.2L519.3 8.2L483.4 8.2L447.5 8.2L411.5 8.2L375.6 8.2L339.7 8.2L303.8 8.2L267.8 8.2L231.9 8.2L196 8.2L160 8.2L124.1 8.2L124.1 44.2L124.1 80.1L124.1 116.1L124.1 152L124.1 188L124.1 224L124.1 259.9L124.1 295.9L124.1 331.8L124.1 367.8L124.1 403.8L124.1 439.7L124.1 475.7L124.1 511.6L124.1 547.6Z" fill="#80ff80"/>
<path d="M160 547.6L196 547.6L231.9 547.6L267.8 547.6L303.8 547.6L339.7 547.6L375.6 547.6L411.5 547.6L447.5 547.6L483.4 547.6L519.3 547.6L527.7 547.6L527.7 511.6L528.8 475.7L534.6 439.7L548.4 403.8L555.3 392.3L578.9 367.8L591.2 357.1L627.1 341.6L663.1 338.7L699 345.3L734.9 364.3L739.2 367.8L770.8 398.6L774.6 403.8L792.3 439.7L798.6 475.7L798.9 511.6L798 547.6L806.8 547.6L842.7 547.6L878.6 547.6L914.6 547.6L950.5 547.6L986.4 547.6L1022.4 547.6L1058.3 547.6L1094.2 547.6L1130.1 547.6L1166.1 547.6L1202 547.6L1202 511.6L1202 475.7L1202 439.7L1202 403.8L1202 367.8L1202 331.8L1202 295.9L1202 259.9L1202 224L1202 188L1202 152L1202 116.1L1202 80.1L1202 44.2L1202 8.2L1166.1 8.2L1130.1 8.2L1094.2 8.2L1058.3 8.2L1022.4 8.2L986.4 8.2L950.5 8.2L914.6 8.2L878.6 8.2L842.7 8.2L806.8 8.2L770.8 8.2L734.9 8.2L699 8.2L663.1 8.2L627.1 8.2L591.2 8.2L555.3 8.2L519.3 8.2L483.4 8.2L447.5 8.2L411.5 8.2L375.6 8.2L339.7 8.2L303.8 8.2L267.8 8.2L231.9 8.2L196 8.2L160 8.2L124.1 8.2L124.1 44.2L124.1 80.1L124.1 116.1L124.1 152L124.1 188L124.1 224L124.1 259.9L124.1 295.9L124.1 331.8L124.1 367.8L124.1 403.8L124.1 439.7L124.1 475.7L124.1 511.6L124.1 547.6Z" fill="#94ff6b"/>
<path d="M160 547.6L196 547.6L231.9 547.6L267.8 547.6L303.8 547.6L339.7 547.6L375.6 547.6L411.5 547.6L447.5 547.6L483.4 547.6L519.3 547.6L523.4 547.6L523.1 511.6L523.4 475.7L527.8 439.7L539.8 403.8L555.3 378.1L565.2 367.8L591.2 345.1L626.5 331.8L627.1 331.6L663.1 329.1L677.3 331.8L699 335.6L734.9 353L752.8 367.8L770.8 385.3L784.3 403.8L799.5 439.7L804.2 475.7L803.7 511.6L802.8 547.6L806.8 547.6L842.7 547.6L878.6 547.6L914.6 547.6L950.5 547.6L986.4 547.6L1022.4 547.6L1058.3 547.6L1094.2 547.6L1130.1 547.6L1166.1 547.6L1202 547.6L1202 511.6L1202 475.7L1202 439.7L1202 403.8L1202 367.8L1202 331.8L1202 295.9L1202 259.9L1202 224L1202 188L1202 152L1202 116.1L1202 80.1L1202 44.2L1202 8.2L1166.1 8.2L1130.1 8.2L1094.2 8.2L1058.3 8.2L1022.4 8.2L986.4 8.2L950.5 8.2L914.6 8.2L878.6 8.2L842.7 8.2L806.8 8.2L770.8 8.2L734.9 8.2L699 8.2L663.1 8.2L627.1 8.2L591.2 8.2L555.3 8.2L519.3 8.2L483.4 8.2L447.5 8.2L411.5 8.2L375.6 8.2L339.7 8.2L303.8 8.2L267.8 8.2L231.9 8.2L196 8.2L160 8.2L124.1 8.2L124.1 44.2L124.1 80.1L124.1 116.1L124.1 152L124.1 188L124.1 224L124.1 259.9L124.1 295.9L124.1 331.8L124.1 367.8L124.1 403.8L124.1 439.7L124.1 475.7L124.1 511.6L124.1 547.6Z" fill="#a8ff57"/>
<path d="M160 547.6L196 547.6L231.9 547.6L267.8 547.6L303.8 547.6L339.7 547.6L375.6 547.6L411.5 547.6L447.5 547.6L483.4 547.6L518.8 547.6L518.1 511.6L517.5 475.7L519.3 458.4L521.1 439.7L531.2 403.8L552 367.8L555.3 363.2L591.2 333.1L594.5 331.8L627.1 320L663.1 318.3L699 324.8L713.8 331.8L734.9 341.7L766.5 367.8L770.8 372.1L794 403.8L806.7 439.7L806.8 440L810.5 475.7L809.1 511.6L807.7 547.6L842.7 547.6L878.6 547.6L914.6 547.6L950.5 547.6L986.4 547.6L1022.4 547.6L1058.3 547.6L1094.2 547.6L1130.1 547.6L1166.1 547.6L1202 547.6L1202 511.6L1202 475.7L1202 439.7L1202 403.8L1202 367.8L1202 331.8L1202 295.9L1202 259.9L1202 224L1202 188L1202 152L1202 116.1L1202 80.1L1202 44.2L1202 8.2L1166.1 8.2L1130.1 8.2L1094.2 8.2L1058.3 8.2L1022.4 8.2L986.4 8.2L950.5 8.2L914.6 8.2L878.6 8.2L842.7 8.2L806.8 8.2L770.8 8.2L734.9 8.2L699 8.2L663.1 8.2L627.1 8.2L591.2 8.2L555.3 8.2L519.3 8.2L483.4 8.2L447.5 8.2L411.5 8.2L375.6 8.2L339.7 8.2L303.8 8.2L267.8 8.2L231.9 8.2L196 8.2L160 8.2L124.1 8.2L124.1 44.2L124.1 80.1L124.1 116.1L124.1 152L124.1 188L124.1 224L124.1 259.9L124.1 295.9L124.1 331.8L124.1 367.8L124.1 403.8L124.1 439.7L124.1 475.7L124.1 511.6L124.1 547.6Z" fill="#bdff42"/>
<path d="M160 547.6L196 547.6L231.9 547.6L267.8 547.6L303.8 547.6L339.7 547.6L375.6 547.6L411.5 547.6L447.5 547.6L483.4 547.6L512.6 547.6L511.6 511.6L510.1 475.7L513.1 439.7L519.3 416.1L522.6 403.8L540.2 367.8L555.3 346.9L573.5 331.8L591.2 319.2L627.1 308.4L663.1 307.4L699 313.2L734.9 330.2L737.1 331.8L770.8 358.6L779.6 367.8L803.7 403.8L806.8 412.4L815.1 439.7L817.5 475.7L815.4 511.6L813.7 547.6L842.7 547.6L878.6 547.6L914.6 547.6L950.5 547.6L986.4 547.6L1022.4 547.6L1058.3 547.6L1094.2 547.6L1130.1 547.6L1166.1 547.6L1202 547.6L1202 511.6L1202 475.7L1202 439.7L1202 403.8L1202 367.8L1202 331.8L1202 295.9L1202 259.9L1202 224L1202 188L1202 152L1202 116.1L1202 80.1L1202 44.2L1202 8.2L1166.1 8.2L1130.1 8.2L1094.2 8.2L1058.3 8.2L1022.4 8.2L986.4 8.2L950.5 8.2L914.6 8.2L878.6 8.2L842.7 8.2L806.8 8.2L770.8 8.2L734.9 8.2L699 8.2L663.1 8.2L627.1 8.2L591.2 8.2L555.3 8.2L519.3 8.2L483.4 8.2L447.5 8.2L411.5 8.2L375.6 8.2L339.7 8.2L303.8 8.2L267.8 8.2L231.9 8.2L196 8.2L160 8.2L124.1 8.2L124.1 44.2L124.1 80.1L124.1 116.1L124.1 152L124.1 188L124.1 224L124.1 259.9L124.1 295.9L124.1 331.8L124.1 367.8L124.1 403.8L124.1 439.7L124.1 475.7L124.1 511.6L124.1 547.6Z" fill="#d1ff2e"/>
<path d="M160 547.6L196 547.6L231.9 547.6L267.8 547.6L303.8 547.6L339.7 547.6L375.6 547.6L411.5 547.6L447.5 547.6L483.4 547.6L506.4 547.6L505 511.6L502.7 475.7L504.6 439.7L512.7 403.8L519.3 387.8L528.4 367.8L553.9 331.8L555.3 330.3L591.2 305.1L627.1 296.8L663.1 296.6L699 301.6L734.9 316.9L754.1 331.8L770.8 345.1L792.6 367.8L806.8 389.9L813.7 403.8L823.4 439.7L824.4 475.7L821.7 511.6L819.8 547.6L842.7 547.6L878.6 547.6L914.6 547.6L950.5 547.6L986.4 547.6L1022.4 547.6L1058.3 547.6L1094.2 547.6L1130.1 547.6L1166.1 547.6L1202 547.6L1202 511.6L1202 475.7L1202 439.7L1202 403.8L1202 367.8L1202 331.8L1202 295.9L1202 259.9L1202 224L1202 188L1202 152L1202 116.1L1202 80.1L1202 44.2L1202 8.2L1166.1 8.2L1130.1 8.2L1094.2 8.2L1058.3 8.2L1022.4 8.2L986.4 8.2L950.5 8.2L914.6 8.2L878.6 8.2L842.7 8.2L806.8 8.2L770.8 8.2L734.9 8.2L699 8.2L663.1 8.2L627.1 8.2L591.2 8.2L555.3 8.2L519.3 8.2L483.4 8.2L447.5 8.2L411.5 8.2L375.6 8.2L339.7 8.2L303.8 8.2L267.8 8.2L231.9 8.2L196 8.2L160 8.2L124.1 8.2L124.1 44.2L124.1 80.1L124.1 116.1L124.1 152L124.1 188L124.1 224L124.1 259.9L124.1 295.9L124.1 331.8L124.1 367.8L124.1 403.8L124.1 439.7L124.1 475.7L124.1 511.6L124.1 547.6Z" fill="#e5ff1a"/>
<path d="M160 547.6L196 547.6L231.9 547.6L267.8 547.6L303.8 547.6L339.7 547.6L375.6 547.6L411.5 547.6L447.5 547.6L483.4 547.6L500.1 547.6L498.5 511.6L495.3 475.7L496.1 439.7L502 403.8L516.1 367.8L519.3 361.5L537.2 331.8L555.3 310.3L579.5 295.9L591.2 290.3L627.1 283L663.1 283.6L699 289.2L715.4 295.9L734.9 303.7L770.8 331.6L771.1 331.8L805.5 367.8L806.8 369.8L823.9 403.8L831.7 439.7L831.4 475.7L828 511.6L825.8 547.6L842.7 547.6L878.6 547.6L914.6 547.6L950.5 547.6L986.4 547.6L1022.4 547.6L1058.3 547.6L1094.2 547.6L1130.1 547.6L1166.1 547.6L1202 547.6L1202 511.6L1202 475.7L1202 439.7L1202 403.8L1202 367.8L1202 331.8L1202 295.9L1202 259.9L1202 224L1202 188L1202 152L1202 116.1L1202 80.1L1202 44.2L1202 8.2L1166.1 8.2L1130.1 8.2L1094.2 8.2L1058.3 8.2L1022.4 8.2L986.4 8.2L950.5 8.2L914.6 8.2L878.6 8.2L842.7 8.2L806.8 8.2L770.8 8.2L734.9 8.2L699 8.2L663.1 8.2L627.1 8.2L591.2 8.2L555.3 8.2L519.3 8.2L483.4 8.2L447.5 8.2L411.5 8.2L375.6 8.2L339.7 8.2L303.8 8.2L267.8 8.2L231.9 8.2L196 8.2L160 8.2L124.1 8.2L124.1 44.2L124.1 80.1L124.1 116.1L124.1 152L124.1 188L124.1 224L124.1 259.9L124.1 295.9L124.1 331.8L124.1 367.8L124.1 403.8L124.1 439.7L124.1 475.7L124.1 511.6L124.1 547.6Z" fill="#faff05"/>
<path d="M160 547.6L196 547.6L231.9 547.6L267.8 547.6L303.8 547.6L339.7 547.6L375.6 547.6L411.5 547.6L447.5 547.6L483.4 547.6L493.9 547.6L491.9 511.6L487.9 475.7L487.6 439.7L491.3 403.8L501.7 367.8L519.3 333.7L520.4 331.8L547.9 295.9L555.3 290.5L591.2 274.3L627.1 269L663.1 270.4L699 275.9L734.9 290.1L743.5 295.9L770.8 316L788.2 331.8L806.8 351.5L817.9 367.8L834 403.8L840.1 439.7L838.4 475.7L834.3 511.6L831.8 547.6L842.7 547.6L878.6 547.6L914.6 547.6L950.5 547.6L986.4 547.6L1022.4 547.6L1058.3 547.6L1094.2 547.6L1130.1 547.6L1166.1 547.6L1202 547.6L1202 511.6L1202 475.7L1202 439.7L1202 403.8L1202 367.8L1202 331.8L1202 295.9L1202 259.9L1202 224L1202 188L1202 152L1202 116.1L1202 80.1L1202 44.2L1202 8.2L1166.1 8.2L1130.1 8.2L1094.2 8.2L1058.3 8.2L1022.4 8.2L986.4 8.2L950.5 8.2L914.6 8.2L878.6 8.2L842.7 8.2L806.8 8.2L770.8 8.2L734.9 8.2L699 8.2L663.1 8.2L627.1 8.2L591.2 8.2L555.3 8.2L519.3 8.2L483.4 8.2L447.5 8.2L411.5 8.2L375.6 8.2L339.7 8.2L303.8 8.2L267.8 8.2L231.9 8.2L196 8.2L160 8.2L124.1 8.2L124.1 44.2L124.1 80.1L124.1 116.1L124.1 152L124.1 188L124.1 224L124.1 259.9L124.1 295.9L124.1 331.8L124.1 367.8L124.1 403.8L124.1 439.7L124.1 475.7L124.1 511.6L124.1 547.6Z" fill="#fff000"/>
<path d="M160 547.6L196 547.6L231.9 547.6L267.8 547.6L303.8 547.6L339.7 547.6L375.6 547.6L411.5 547.6L447.5 547.6L483.4 547.6L487.6 547.6L485.4 511.6L483.4 496.2L479.3 475.7L477.4 439.7L479.9 403.8L483.4 386.2L487.4 367.8L502.5 331.8L519.3 298.5L521.2 295.9L555.3 270.8L585.3 259.9L591.2 258L627.1 253.9L663.1 256.5L681.2 259.9L699 262.6L734.9 276L764.6 295.9L770.8 300.5L805.3 331.8L806.8 333.4L830.3 367.8L842.7 399.4L844.2 403.8L849.4 439.7L846.2 475.7L842.7 494.5L840.5 511.6L837.8 547.6L842.7 547.6L878.6 547.6L914.6 547.6L950.5 547.6L986.4 547.6L1022.4 547.6L1058.3 547.6L1094.2 547.6L1130.1 547.6L1166.1 547.6L1202 547.6L1202 511.6L1202 475.7L1202 439.7L1202 403.8L1202 367.8L1202 331.8L1202 295.9L1202 259.9L1202 224L1202 188L1202 152L1202 116.1L1202 80.1L1202 44.2L1202 8.2L1166.1 8.2L1130.1 8.2L1094.2 8.2L1058.3 8.2L1022.4 8.2L986.4 8.2L950.5 8.2L914.6 8.2L878.6 8.2L842.7 8.2L806.8 8.2L770.8 8.2L734.9 8.2L699 8.2L663.1 8.2L627.1 8.2L591.2 8.2L555.3 8.2L519.3 8.2L483.4 8.2L447.5 8.2L411.5 8.2L375.6 8.2L339.7 8.2L303.8 8.2L267.8 8.2L231.9 8.2L196 8.2L160 8.2L124.1 8.2L124.1 44.2L124.1 80.1L124.1 116.1L124.1 152L124.1 188L124.1 224L124.1 259.9L124.1 295.9L124.1 331.8L124.1 367.8L124.1 403.8L124.1 439.7L124.1 475.7L124.1 511.6L124.1 547.6Z" fill="#ffdb00"/>
<path d="M160 547.6L196 547.6L231.9 547.6L267.8 547.6L303.8 547.6L339.7 547.6L375.6 547.6L411.5 547.6L447.5 547.6L480.8 547.6L477.1 511.6L469 475.7L465.8 439.7L466.7 403.8L472.9 367.8L483.4 334.5L484.4 331.8L501.1 295.9L519.3 273.5L539.3 259.9L555.3 251.5L591.2 240.1L627.1 236.8L663.1 239.9L699 247.5L729.5 259.9L734.9 261.9L770.8 284.9L784.2 295.9L806.8 316.2L820.7 331.8L842.7 367.8L842.7 367.9L855.3 403.8L859.3 439.7L855.5 475.7L848.4 511.6L844.2 547.6L878.6 547.6L914.6 547.6L950.5 547.6L986.4 547.6L1022.4 547.6L1058.3 547.6L1094.2 547.6L1130.1 547.6L1166.1 547.6L1202 547.6L1202 511.6L1202 475.7L1202 439.7L1202 403.8L1202 367.8L1202 331.8L1202 295.9L1202 259.9L1202 224L1202 188L1202 152L1202 116.1L1202 80.1L1202 44.2L1202 8.2L1166.1 8.2L1130.1 8.2L1094.2 8.2L1058.3 8.2L1022.4 8.2L986.4 8.2L950.5 8.2L914.6 8.2L878.6 8.2L842.7 8.2L806.8 8.2L770.8 8.2L734.9 8.2L699 8.2L663.1 8.2L627.1 8.2L591.2 8.2L555.3 8.2L519.3 8.2L483.4 8.2L447.5 8.2L411.5 8.2L375.6 8.2L339.7 8.2L303.8 8.2L267.8 8.2L231.9 8.2L196 8.2L160 8.2L124.1 8.2L124.1 44.2L124.1 80.1L124.1 116.1L124.1 152L124.1 188L124.1 224L124.1 259.9L124.1 295.9L124.1 331.8L124.1 367.8L124.1 403.8L124.1 439.7L124.1 475.7L124.1 511.6L124.1 547.6Z" fill="#ffc700"/>
<path d="M160 547.6L196 547.6L231.9 547.6L267.8 547.6L303.8 547.6L339.7 547.6L375.6 547.6L411.5 547.6L447.5 547.6L472.6 547.6L468.1 511.6L458.8 475.7L454.1 439.7L453.5 403.8L458.4 367.8L469.9 331.8L482.1 295.9L483.4 293.2L510 259.9L519.3 251.7L555.3 232.6L584.8 224L591.2 221.9L627.1 218.8L663.1 223.3L665.4 224L699 231.9L734.9 246.4L756 259.9L770.8 269.4L803.2 295.9L806.8 299.1L835.9 331.8L842.7 343L855.5 367.8L866.3 403.8L869.1 439.7L864.8 475.7L857.1 511.6L852.4 547.6L878.6 547.6L914.6 547.6L950.5 547.6L986.4 547.6L1022.4 547.6L1058.3 547.6L1094.2 547.6L1130.1 547.6L1166.1 547.6L1202 547.6L1202 511.6L1202 475.7L1202 439.7L1202 403.8L1202 367.8L1202 331.8L1202 295.9L1202 259.9L1202 224L1202 188L1202 152L1202 116.1L1202 80.1L1202 44.2L1202 8.2L1166.1 8.2L1130.1 8.2L1094.2 8.2L1058.3 8.2L1022.4 8.2L986.4 8.2L950.5 8.2L914.6 8.2L878.6 8.2L842.7 8.2L806.8 8.2L770.8 8.2L734.9 8.2L699 8.2L663.1 8.2L627.1 8.2L591.2 8.2L555.3 8.2L519.3 8.2L483.4 8.2L447.5 8.2L411.5 8.2L375.6 8.2L339.7 8.2L303.8 8.2L267.8 8.2L231.9 8.2L196 8.2L160 8.2L124.1 8.2L124.1 44.2L124.1 80.1L124.1 116.1L124.1 152L124.1 188L124.1 224L124.1 259.9L124.1 295.9L124.1 331.8L124.1 367.8L124.1 403.8L124.1 439.7L124.1 475.7L124.1 511.6L124.1 547.6Z" fill="#ffb300"/>
<path d="M160 547.6L196 547.6L231.9 547.6L267.8 547.6L303.8 547.6L339.7 547.6L375.6 547.6L411.5 547.6L447.5 547.6L464.5 547.6L459 511.6L448.5 475.7L447.5 468.9L442.6 439.7L441.1 403.8L444.5 367.8L447.5 357L455.6 331.8L469.4 295.9L483.4 266.4L488.6 259.9L519.3 232.9L536.1 224L555.3 212.8L591.2 201.3L627.1 198.4L663.1 203.1L699 214.4L718.2 224L734.9 230.7L770.8 253.1L779.6 259.9L806.8 281.5L822.2 295.9L842.7 319.6L851.3 331.8L868.3 367.8L877.4 403.8L878.6 431L879.1 439.7L878.6 442.2L874.1 475.7L865.8 511.6L860.6 547.6L878.6 547.6L914.6 547.6L950.5 547.6L986.4 547.6L1022.4 547.6L1058.3 547.6L1094.2 547.6L1130.1 547.6L1166.1 547.6L1202 547.6L1202 511.6L1202 475.7L1202 439.7L1202 403.8L1202 367.8L1202 331.8L1202 295.9L1202 259.9L1202 224L1202 188L1202 152L1202 116.1L1202 80.1L1202 44.2L1202 8.2L1166.1 8.2L1130.1 8.2L1094.2 8.2L1058.3 8.2L1022.4 8.2L986.4 8.2L950.5 8.2L914.6 8.2L878.6 8.2L842.7 8.2L806.8 8.2L770.8 8.2L734.9 8.2L699 8.2L663.1 8.2L627.1 8.2L591.2 8.2L555.3 8.2L519.3 8.2L483.4 8.2L447.5 8.2L411.5 8.2L375.6 8.2L339.7 8.2L303.8 8.2L267.8 8.2L231.9 8.2L196 8.2L160 8.2L124.1 8.2L124.1 44.2L124.1 80.1L124.1 116.1L124.1 152L124.1 188L124.1 224L124.1 259.9L124.1 295.9L124.1 331.8L124.1 367.8L124.1 403.8L124.1 439.7L124.1 475.7L124.1 511.6L124.1 547.6Z" fill="#ff9e00"/>
<path d="M160 547.6L196 547.6L231.9 547.6L267.8 547.6L303.8 547.6L339.7 547.6L375.6 547.6L411.5 547.6L447.5 547.6L456.4 547.6L450 511.6L447.5 503L437.9 475.7L431.2 439.7L429.5 403.8L432.6 367.8L441.8 331.8L447.5 318.4L456.6 295.9L472.9 259.9L483.4 244.8L507.3 224L519.3 212.7L555.3 192.1L568.1 188L591.2 179.3L627.1 175.8L663.1 181.9L677.8 188L699 195L734.9 212.6L751.4 224L770.8 235.7L801.9 259.9L806.8 263.8L841.3 295.9L842.7 297.5L866.9 331.8L878.6 360.5L881.8 367.8L891.5 403.8L892.4 439.7L885 475.7L878.6 494.3L874.5 511.6L868.8 547.6L878.6 547.6L914.6 547.6L950.5 547.6L986.4 547.6L1022.4 547.6L1058.3 547.6L1094.2 547.6L1130.1 547.6L1166.1 547.6L1202 547.6L1202 511.6L1202 475.7L1202 439.7L1202 403.8L1202 367.8L1202 331.8L1202 295.9L1202 259.9L1202 224L1202 188L1202 152L1202 116.1L1202 80.1L1202 44.2L1202 8.2L1166.1 8.2L1130.1 8.2L1094.2 8.2L1058.3 8.2L1022.4 8.2L986.4 8.2L950.5 8.2L914.6 8.2L878.6 8.2L842.7 8.2L806.8 8.2L770.8 8.2L734.9 8.2L699 8.2L663.1 8.2L627.1 8.2L591.2 8.2L555.3 8.2L519.3 8.2L483.4 8.2L447.5 8.2L411.5 8.2L375.6 8.2L339.7 8.2L303.8 8.2L267.8 8.2L231.9 8.2L196 8.2L160 8.2L124.1 8.2L124.1 44.2L124.1 80.1L124.1 116.1L124.1 152L124.1 188L124.1 224L124.1 259.9L124.1 295.9L124.1 331.8L124.1 367.8L124.1 403.8L124.1 439.7L124.1 475.7L124.1 511.6L124.1 547.6Z" fill="#ff8a00"/>
<path d="M160 547.6L196 547.6L231.9 547.6L267.8 547.6L303.8 547.6L339.7 547.6L375.6 547.6L411.5 547.6L447.5 547.6L448.3 547.6L447.5 543.4L440 511.6L427.2 475.7L419.8 439.7L417.8 403.8L420.6 367.8L428.8 331.8L443.3 295.9L447.5 286.9L459.1 259.9L483.4 224.8L484.4 224L519.3 191.2L525 188L555.3 167.7L591.2 154.5L617.6 152L627.1 151L632.4 152L663.1 157.2L699 172.2L725.3 188L734.9 192.7L770.8 216.5L780 224L806.8 243.7L825.6 259.9L842.7 275.5L861.4 295.9L878.6 323.6L883.6 331.8L898.5 367.8L906.1 403.8L905.7 439.7L897.5 475.7L884.4 511.6L878.6 537.6L877 547.6L878.6 547.6L914.6 547.6L950.5 547.6L986.4 547.6L1022.4 547.6L1058.3 547.6L1094.2 547.6L1130.1 547.6L1166.1 547.6L1202 547.6L1202 511.6L1202 475.7L1202 439.7L1202 403.8L1202 367.8L1202 331.8L1202 295.9L1202 259.9L1202 224L1202 188L1202 152L1202 116.1L1202 80.1L1202 44.2L1202 8.2L1166.1 8.2L1130.1 8.2L1094.2 8.2L1058.3 8.2L1022.4 8.2L986.4 8.2L950.5 8.2L914.6 8.2L878.6 8.2L842.7 8.2L806.8 8.2L770.8 8.2L734.9 8.2L699 8.2L663.1 8.2L627.1 8.2L591.2 8.2L555.3 8.2L519.3 8.2L483.4 8.2L447.5 8.2L411.5 8.2L375.6 8.2L339.7 8.2L303.8 8.2L267.8 8.2L231.9 8.2L196 8.2L160 8.2L124.1 8.2L124.1 44.2L124.1 80.1L124.1 116.1L124.1 152L124.1 188L124.1 224L124.1 259.9L124.1 295.9L124.1 331.8L124.1 367.8L124.1 403.8L124.1 439.7L124.1 475.7L124.1 511.6L124.1 547.6Z" fill="#ff7500"/>
<path d="M160 547.6L196 547.6L231.9 547.6L267.8 547.6L303.8 547.6L339.7 547.6L375.6 547.6L411.5 547.6L438.2 547.6L429.5 511.6L416.6 475.7L411.5 452.8L407.7 439.7L404.8 403.8L407.8 367.8L411.5 352.4L415.8 331.8L428.6 295.9L444.6 259.9L447.5 254.2L464.6 224L483.4 199.3L495.6 188L519.3 164.3L538.6 152L555.3 140L591.2 124.8L627.1 121.6L663.1 129L699 146.7L707.1 152L734.9 168.3L761.8 188L770.8 193.9L806.8 222.7L808.1 224L842.7 252.8L850.2 259.9L878.6 291.7L882.2 295.9L903.2 331.8L914.6 365.9L915.4 367.8L924.2 403.8L921.3 439.7L914.6 457L910 475.7L895.4 511.6L886.1 547.6L914.6 547.6L950.5 547.6L986.4 547.6L1022.4 547.6L1058.3 547.6L1094.2 547.6L1130.1 547.6L1166.1 547.6L1202 547.6L1202 511.6L1202 475.7L1202 439.7L1202 403.8L1202 367.8L1202 331.8L1202 295.9L1202 259.9L1202 224L1202 188L1202 152L1202 116.1L1202 80.1L1202 44.2L1202 8.2L1166.1 8.2L1130.1 8.2L1094.2 8.2L1058.3 8.2L1022.4 8.2L986.4 8.2L950.5 8.2L914.6 8.2L878.6 8.2L842.7 8.2L806.8 8.2L770.8 8.2L734.9 8.2L699 8.2L663.1 8.2L627.1 8.2L591.2 8.2L555.3 8.2L519.3 8.2L483.4 8.2L447.5 8.2L411.5 8.2L375.6 8.2L339.7 8.2L303.8 8.2L267.8 8.2L231.9 8.2L196 8.2L160 8.2L124.1 8.2L124.1 44.2L124.1 80.1L124.1 116.1L124.1 152L124.1 188L124.1 224L124.1 259.9L124.1 295.9L124.1 331.8L124.1 367.8L124.1 403.8L124.1 439.7L124.1 475.7L124.1 511.6L124.1 547.6Z" fill="#ff6100"/>
<path d="M160 547.6L196 547.6L231.9 547.6L267.8 547.6L303.8 547.6L339.7 547.6L375.6 547.6L411.5 547.6L427.9 547.6L419.1 511.6L411.5 490.8L404.3 475.7L393.5 439.7L390.3 403.8L392.6 367.8L400 331.8L411.5 302.8L413.9 295.9L426.9 259.9L444.5 224L447.5 219L468.7 188L483.4 169L500.4 152L519.3 133.1L543.5 116.1L555.3 107.9L591.2 92.6L627.1 89.7L663.1 99.1L695.7 116.1L699 117.7L734.9 141.1L749.9 152L770.8 166.8L796.3 188L806.8 196.2L837.6 224L842.7 228.2L875.9 259.9L878.6 263L906.3 295.9L914.6 312.1L925.8 331.8L939.9 367.8L947.1 403.8L941.5 439.7L926.3 475.7L914.6 492.3L906.4 511.6L895.4 547.6L914.6 547.6L950.5 547.6L986.4 547.6L1022.4 547.6L1058.3 547.6L1094.2 547.6L1130.1 547.6L1166.1 547.6L1202 547.6L1202 511.6L1202 475.7L1202 439.7L1202 403.8L1202 367.8L1202 331.8L1202 295.9L1202 259.9L1202 224L1202 188L1202 152L1202 116.1L1202 80.1L1202 44.2L1202 8.2L1166.1 8.2L1130.1 8.2L1094.2 8.2L1058.3 8.2L1022.4 8.2L986.4 8.2L950.5 8.2L914.6 8.2L878.6 8.2L842.7 8.2L806.8 8.2L770.8 8.2L734.9 8.2L699 8.2L663.1 8.2L627.1 8.2L591.2 8.2L555.3 8.2L519.3 8.2L483.4 8.2L447.5 8.2L411.5 8.2L375.6 8.2L339.7 8.2L303.8 8.2L267.8 8.2L231.9 8.2L196 8.2L160 8.2L124.1 8.2L124.1 44.2L124.1 80.1L124.1 116.1L124.1 152L124.1 188L124.1 224L124.1 259.9L124.1 295.9L124.1 331.8L124.1 367.8L124.1 403.8L124.1 439.7L124.1 475.7L124.1 511.6L124.1 547.6Z" fill="#ff4c00"/>
<path d="M160 547.6L196 547.6L231.9 547.6L267.8 547.6L303.8 547.6L339.7 547.6L375.6 547.6L411.5 547.6L417.6 547.6L411.5 523.1L407.6 511.6L390.5 475.7L379.3 439.7L375.8 403.8L377.4 367.8L383 331.8L394.3 295.9L408.5 259.9L411.5 251.8L421.5 224L442.2 188L447.5 180.6L468.8 152L483.4 134.2L501.5 116.1L519.3 99L546.9 80.1L555.3 74.9L591.2 60.9L627.1 58.6L663.1 68.9L684.2 80.1L699 88L734.9 111.4L741.7 116.1L770.8 136.9L790.3 152L806.8 165.4L830.4 188L842.7 198.9L867.7 224L878.6 234.3L904.7 259.9L914.6 272.1L934.2 295.9L950.5 327.8L952.6 331.8L966.5 367.8L972.7 403.8L965.5 439.7L950.5 462.7L944.7 475.7L918.9 511.6L914.6 518.8L904.8 547.6L914.6 547.6L950.5 547.6L986.4 547.6L1022.4 547.6L1058.3 547.6L1094.2 547.6L1130.1 547.6L1166.1 547.6L1202 547.6L1202 511.6L1202 475.7L1202 439.7L1202 403.8L1202 367.8L1202 331.8L1202 295.9L1202 259.9L1202 224L1202 188L1202 152L1202 116.1L1202 80.1L1202 44.2L1202 8.2L1166.1 8.2L1130.1 8.2L1094.2 8.2L1058.3 8.2L1022.4 8.2L986.4 8.2L950.5 8.2L914.6 8.2L878.6 8.2L842.7 8.2L806.8 8.2L770.8 8.2L734.9 8.2L699 8.2L663.1 8.2L627.1 8.2L591.2 8.2L555.3 8.2L519.3 8.2L483.4 8.2L447.5 8.2L411.5 8.2L375.6 8.2L339.7 8.2L303.8 8.2L267.8 8.2L231.9 8.2L196 8.2L160 8.2L124.1 8.2L124.1 44.2L124.1 80.1L124.1 116.1L124.1 152L124.1 188L124.1 224L124.1 259.9L124.1 295.9L124.1 331.8L124.1 367.8L124.1 403.8L124.1 439.7L124.1 475.7L124.1 511.6L124.1 547.6Z" fill="#ff3800"/>
<path d="M160 547.6L196 547.6L231.9 547.6L267.8 547.6L303.8 547.6L339.7 547.6L375.6 547.6L405.6 547.6L393.4 511.6L376.8 475.7L375.6 472L360.3 439.7L353.7 403.8L355.1 367.8L361.5 331.8L373.2 295.9L375.6 288.8L384.1 259.9L396.2 224L411.5 193.1L414.2 188L439 152L447.5 141.2L467.5 116.1L483.4 98.5L502.7 80.1L519.3 65.3L554.2 44.2L555.3 43.5L591.2 30.5L627.1 29.1L663.1 39.3L672.1 44.2L699 58.7L732.9 80.1L734.9 81.4L770.8 105.6L786.5 116.1L806.8 131.4L830.2 152L842.7 163.9L863.4 188L878.6 203.3L898.8 224L914.6 239.4L937.5 259.9L950.5 276.2L964.8 295.9L982.4 331.8L986.4 343.3L994.7 367.8L999.9 403.8L993.3 439.7L986.4 449.9L970.1 475.7L950.5 491.3L935.6 511.6L914.6 546.3L914.1 547.6L914.6 547.6L950.5 547.6L986.4 547.6L1022.4 547.6L1058.3 547.6L1094.2 547.6L1130.1 547.6L1166.1 547.6L1202 547.6L1202 511.6L1202 475.7L1202 439.7L1202 403.8L1202 367.8L1202 331.8L1202 295.9L1202 259.9L1202 224L1202 188L1202 152L1202 116.1L1202 80.1L1202 44.2L1202 8.2L1166.1 8.2L1130.1 8.2L1094.2 8.2L1058.3 8.2L1022.4 8.2L986.4 8.2L950.5 8.2L914.6 8.2L878.6 8.2L842.7 8.2L806.8 8.2L770.8 8.2L734.9 8.2L699 8.2L663.1 8.2L627.1 8.2L591.2 8.2L555.3 8.2L519.3 8.2L483.4 8.2L447.5 8.2L411.5 8.2L375.6 8.2L339.7 8.2L303.8 8.2L267.8 8.2L231.9 8.2L196 8.2L160 8.2L124.1 8.2L124.1 44.2L124.1 80.1L124.1 116.1L124.1 152L124.1 188L124.1 224L124.1 259.9L124.1 295.9L124.1 331.8L124.1 367.8L124.1 403.8L124.1 439.7L124.1 475.7L124.1 511.6L124.1 547.6Z" fill="#ff2400"/>
<path d="M160 547.6L196 547.6L231.9 547.6L267.8 547.6L303.8 547.6L339.7 547.6L375.6 547.6L391.1 547.6L379.3 511.6L375.6 503.8L357.3 475.7L339.7 439.9L339.5 439.7L328.3 403.8L327.9 367.8L335.1 331.8L339.7 318.3L345.3 295.9L356.3 259.9L368.2 224L375.6 207.2L384 188L406.7 152L411.5 145.6L433.7 116.1L447.5 100.5L465.7 80.1L483.4 61.9L503.5 44.2L519.3 30.6L555.3 11.3L565.4 8.2L555.3 8.2L519.3 8.2L483.4 8.2L447.5 8.2L411.5 8.2L375.6 8.2L339.7 8.2L303.8 8.2L267.8 8.2L231.9 8.2L196 8.2L160 8.2L124.1 8.2L124.1 44.2L124.1 80.1L124.1 116.1L124.1 152L124.1 188L124.1 224L124.1 259.9L124.1 295.9L124.1 331.8L124.1 367.8L124.1 403.8L124.1 439.7L124.1 475.7L124.1 511.6L124.1 547.6ZM950.5 547.6L986.4 547.6L1022.4 547.6L1058.3 547.6L1094.2 547.6L1130.1 547.6L1166.1 547.6L1202 547.6L1202 511.6L1202 475.7L1202 439.7L1202 403.8L1202 367.8L1202 331.8L1202 295.9L1202 259.9L1202 224L1202 188L1202 152L1202 116.1L1202 80.1L1202 44.2L1202 8.2L1166.1 8.2L1130.1 8.2L1094.2 8.2L1058.3 8.2L1022.4 8.2L986.4 8.2L950.5 8.2L914.6 8.2L878.6 8.2L842.7 8.2L806.8 8.2L770.8 8.2L734.9 8.2L699 8.2L663.1 8.2L655.5 8.2L663.1 10.3L699 29.4L722.3 44.2L734.9 52.1L770.8 75L779.3 80.1L806.8 98.1L833.5 116.1L842.7 124L866.5 152L878.6 166.3L895.2 188L914.6 207.8L933.1 224L950.5 239.5L973 259.9L986.4 279.4L995.9 295.9L1012 331.8L1022.4 364.1L1023.5 367.8L1028.5 403.8L1023.8 439.7L1022.4 442.1L1000.6 475.7L986.4 486.7L954 511.6L950.5 513.8L927.8 547.6Z" fill="#ff0f00"/>
<path d="M160 547.6L196 547.6L231.9 547.6L267.8 547.6L303.8 547.6L339.7 547.6L375.6 547.6L376.6 547.6L375.6 544.5L359.7 511.6L339.7 479.8L336.3 475.7L311.3 439.7L303.8 419.5L294.9 403.8L288.4 367.8L295.1 331.8L303.8 312.5L309.3 295.9L323.2 259.9L337.2 224L339.7 218.5L351.9 188L370.5 152L375.6 143.3L394.6 116.1L411.5 95.9L425.1 80.1L447.5 56.4L459.3 44.2L483.4 20L497.8 8.2L483.4 8.2L447.5 8.2L411.5 8.2L375.6 8.2L339.7 8.2L303.8 8.2L267.8 8.2L231.9 8.2L196 8.2L160 8.2L124.1 8.2L124.1 44.2L124.1 80.1L124.1 116.1L124.1 152L124.1 188L124.1 224L124.1 259.9L124.1 295.9L124.1 331.8L124.1 367.8L124.1 403.8L124.1 439.7L124.1 475.7L124.1 511.6L124.1 547.6ZM950.5 547.6L986.4 547.6L1022.4 547.6L1058.3 547.6L1094.2 547.6L1130.1 547.6L1166.1 547.6L1202 547.6L1202 511.6L1202 475.7L1202 439.7L1202 403.8L1202 367.8L1202 331.8L1202 295.9L1202 259.9L1202 224L1202 188L1202 152L1202 116.1L1202 80.1L1202 44.2L1202 8.2L1166.1 8.2L1130.1 8.2L1094.2 8.2L1058.3 8.2L1022.4 8.2L986.4 8.2L950.5 8.2L914.6 8.2L878.6 8.2L842.7 8.2L806.8 8.2L770.8 8.2L734.9 8.2L712.2 8.2L734.9 22.4L768.8 44.2L770.8 45.5L806.8 67.2L829.6 80.1L842.7 88.7L875.9 116.1L878.6 119.4L897.9 152L914.6 173.5L928.2 188L950.5 207.5L973.4 224L986.4 235.6L1006.9 259.9L1022.4 288.8L1025.8 295.9L1041.3 331.8L1052.7 367.8L1057.9 403.8L1053.9 439.7L1033.4 475.7L1022.4 485.7L987.3 511.6L986.4 512.1L950.5 534.4L941.6 547.6Z" fill="#fa0000"/>
<path d="M160 547.6L196 547.6L231.9 547.6L267.8 547.6L303.8 547.6L339.7 547.6L354.9 547.6L339.7 514.6L337.8 511.6L308.6 475.7L303.8 468.7L276.1 439.7L267.8 426.2L248.7 403.8L235.4 367.8L242.2 331.8L261.7 295.9L267.8 285.9L282.1 259.9L300.2 224L303.8 217.1L316.7 188L334.3 152L339.7 140.6L352.6 116.1L374.7 80.1L375.6 78.8L406 44.2L411.5 38.1L439.9 8.2L411.5 8.2L375.6 8.2L339.7 8.2L303.8 8.2L267.8 8.2L231.9 8.2L196 8.2L160 8.2L124.1 8.2L124.1 44.2L124.1 80.1L124.1 116.1L124.1 152L124.1 188L124.1 224L124.1 259.9L124.1 295.9L124.1 331.8L124.1 367.8L124.1 403.8L124.1 439.7L124.1 475.7L124.1 511.6L124.1 547.6ZM986.4 547.6L1022.4 547.6L1058.3 547.6L1094.2 547.6L1130.1 547.6L1166.1 547.6L1202 547.6L1202 511.6L1202 475.7L1202 439.7L1202 403.8L1202 367.8L1202 331.8L1202 295.9L1202 259.9L1202 224L1202 188L1202 152L1202 116.1L1202 80.1L1202 44.2L1202 8.2L1166.1 8.2L1130.1 8.2L1094.2 8.2L1058.3 8.2L1022.4 8.2L986.4 8.2L950.5 8.2L914.6 8.2L878.6 8.2L842.7 8.2L806.8 8.2L770.8 8.2L760.3 8.2L770.8 14.9L806.8 37.5L817.9 44.2L842.7 58.4L876.7 80.1L878.6 81.7L907 116.1L914.6 129.2L928.8 152L950.5 175L968.8 188L986.4 200.2L1016.8 224L1022.4 231L1038.9 259.9L1055.2 295.9L1058.3 303.2L1071 331.8L1082.6 367.8L1087.6 403.8L1083.6 439.7L1066.1 475.7L1058.3 484.5L1027.9 511.6L1022.4 515.3L986.4 534.6L964.3 547.6Z" fill="#e50000"/>
<path d="M160 547.6L196 547.6L231.9 547.6L267.8 547.6L303.8 547.6L330.5 547.6L307.8 511.6L303.8 506.5L268.9 475.7L267.8 474.5L231.9 447.3L222.8 439.7L197.6 403.8L196 395.9L191.1 367.8L195.6 331.8L196 330.9L212.6 295.9L231.9 263.5L234.2 259.9L255.5 224L267.8 204.4L276.6 188L297 152L303.8 138.6L314 116.1L328.7 80.1L339.7 54.4L345.9 44.2L374 8.2L339.7 8.2L303.8 8.2L267.8 8.2L231.9 8.2L196 8.2L160 8.2L124.1 8.2L124.1 44.2L124.1 80.1L124.1 116.1L124.1 152L124.1 188L124.1 224L124.1 259.9L124.1 295.9L124.1 331.8L124.1 367.8L124.1 403.8L124.1 439.7L124.1 475.7L124.1 511.6L124.1 547.6ZM1022.4 547.6L1058.3 547.6L1094.2 547.6L1130.1 547.6L1166.1 547.6L1202 547.6L1202 511.6L1202 475.7L1202 439.7L1202 403.8L1202 367.8L1202 331.8L1202 295.9L1202 259.9L1202 224L1202 188L1202 152L1202 116.1L1202 80.1L1202 44.2L1202 8.2L1166.1 8.2L1130.1 8.2L1094.2 8.2L1058.3 8.2L1022.4 8.2L986.4 8.2L950.5 8.2L914.6 8.2L878.6 8.2L842.7 8.2L809 8.2L842.7 28.3L866.4 44.2L878.6 51.9L910.3 80.1L914.6 85.4L936.3 116.1L950.5 137.3L968.3 152L986.4 164.6L1022.4 183.5L1028.4 188L1055.7 224L1058.3 229.4L1071.3 259.9L1086.4 295.9L1094.2 314.1L1102.4 331.8L1114.5 367.8L1119.1 403.8L1114.8 439.7L1099.1 475.7L1094.2 482.3L1068.8 511.6L1058.3 520.5L1022.4 543.2L1012.5 547.6Z" fill="#d10000"/>
<path d="M160 547.6L196 547.6L231.9 547.6L267.8 547.6L299.1 547.6L267.8 518.2L257.1 511.6L231.9 496.9L196 478.2L192.6 475.7L164.2 439.7L160 428.6L152.1 403.8L149.4 367.8L153.9 331.8L160 312.9L165.5 295.9L182.6 259.9L196 236L202.8 224L226 188L231.9 180.4L251.4 152L267.8 127.2L273.4 116.1L286.8 80.1L297.1 44.2L303.8 25.3L311.5 8.2L303.8 8.2L267.8 8.2L231.9 8.2L196 8.2L160 8.2L124.1 8.2L124.1 44.2L124.1 80.1L124.1 116.1L124.1 152L124.1 188L124.1 224L124.1 259.9L124.1 295.9L124.1 331.8L124.1 367.8L124.1 403.8L124.1 439.7L124.1 475.7L124.1 511.6L124.1 547.6ZM1094.2 547.6L1130.1 547.6L1166.1 547.6L1202 547.6L1202 511.6L1202 475.7L1202 439.7L1202 403.8L1202 367.8L1202 331.8L1202 295.9L1202 259.9L1202 224L1202 188L1202 152L1202 116.1L1202 80.1L1202 44.2L1202 8.2L1166.1 8.2L1130.1 8.2L1094.2 8.2L1058.3 8.2L1022.4 8.2L986.4 8.2L950.5 8.2L914.6 8.2L878.6 8.2L860.6 8.2L878.6 19.8L908.1 44.2L914.6 49.8L942.7 80.1L950.5 91.7L977.6 116.1L986.4 123.4L1022.4 140.7L1043.5 152L1058.3 161.6L1082.4 188L1094.2 219.5L1095.7 224L1107 259.9L1121.7 295.9L1130.1 315.6L1137.9 331.8L1150 367.8L1154.1 403.8L1148.8 439.7L1133.8 475.7L1130.1 481.1L1108.6 511.6L1094.2 526.6L1068.3 547.6Z" fill="#bd0000"/>
<path d="M160 547.6L196 547.6L231.9 547.6L233.4 547.6L231.9 546.7L196 533.7L160 514.9L156 511.6L124.5 475.7L124.1 474.8L124.1 475.7L124.1 511.6L124.1 547.6ZM1130.1 547.6L1166.1 547.6L1202 547.6L1202 511.6L1202 475.7L1202 439.7L1202 403.8L1202 367.8L1202 331.8L1202 295.9L1202 259.9L1202 224L1202 188L1202 152L1202 116.1L1202 80.1L1202 44.2L1202 8.2L1166.1 8.2L1130.1 8.2L1094.2 8.2L1058.3 8.2L1022.4 8.2L986.4 8.2L950.5 8.2L914.6 8.2L911.9 8.2L914.6 10.3L950.5 41.9L953.7 44.2L986.4 70.2L1004.7 80.1L1022.4 89.3L1058.3 107L1071 116.1L1094.2 132.6L1112.2 152L1130.1 183.4L1132.6 188L1142.4 224L1151.4 259.9L1164.7 295.9L1166.1 299.3L1180 331.8L1189.9 367.8L1192.7 403.8L1186.2 439.7L1171.3 475.7L1166.1 483.9L1148.4 511.6L1130.1 533.8L1117 547.6ZM140.6 224L160 190.1L161.3 188L185.3 152L196 140.3L216.8 116.1L231.9 94.3L239 80.1L251.2 44.2L262.2 8.2L231.9 8.2L196 8.2L160 8.2L124.1 8.2L124.1 44.2L124.1 80.1L124.1 116.1L124.1 152L124.1 188L124.1 224L124.1 259.3Z" fill="#a80000"/>
<path d="M1166.1 547.6L1202 547.6L1202 511.6L1202 492.4L1190.5 511.6L1166.1 542.7L1162.1 547.6ZM1202 228L1202 224L1202 188L1202 152L1202 116.1L1202 80.1L1202 44.2L1202 8.2L1166.1 8.2L1130.1 8.2L1094.2 8.2L1058.3 8.2L1022.4 8.2L987.1 8.2L1022.4 21.9L1058.3 33.7L1076.8 44.2L1094.2 56.4L1114.1 80.1L1130.1 96.3L1145.5 116.1L1166.1 144.5L1171.2 152L1190 188L1201.1 224ZM140.4 116.1L160 96.4L175.2 80.1L196 51.6L199.9 44.2L213.1 8.2L196 8.2L160 8.2L124.1 8.2L124.1 44.2L124.1 80.1L124.1 116.1L124.1 135.6Z" fill="#940000"/>
<path d="M1202 106L1202 80.1L1202 44.2L1202 8.2L1166.1 8.2L1142.4 8.2L1164 44.2L1166.1 47.6L1184.1 80.1ZM130.2 44.2L154.6 8.2L124.1 8.2L124.1 44.2L124.1 51.1Z" fill="#800000"/>
</g>
<rect x="124.1" y="8.2" width="1077.9" height="539.4" fill="none" stroke="#262626" stroke-width="5.4"/>
<path d="M124.1 547.6v-13M124.1 8.2v13M393.6 547.6v-13M393.6 8.2v13M663.1 547.6v-13M663.1 8.2v13M932.5 547.6v-13M932.5 8.2v13M1202 547.6v-13M1202 8.2v13M124.1 547.6h13M1202 547.6h-13M124.1 277.9h13M1202 277.9h-13M124.1 8.2h13M1202 8.2h-13" stroke="#262626" stroke-width="5" fill="none"/>
<text x="127.5" y="589" font-size="35" text-anchor="middle" fill="#262626">−4</text>
<text x="394.8" y="589" font-size="35" text-anchor="middle" fill="#262626">−2</text>
<text x="663.3" y="589" font-size="35" text-anchor="middle" fill="#262626">0</text>
<text x="930.9" y="589" font-size="35" text-anchor="middle" fill="#262626">2</text>
<text x="1198.8" y="589" font-size="35" text-anchor="middle" fill="#262626">4</text>
<text x="113.6" y="560.3" font-size="35" text-anchor="end" fill="#262626">0</text>
<text x="113.6" y="291.6" font-size="35" text-anchor="end" fill="#262626">2</text>
<text x="113.6" y="23.6" font-size="35" text-anchor="end" fill="#262626">4</text>
<linearGradient id="jet" x1="0" y1="1" x2="0" y2="0">
<stop offset="0.0000" stop-color="#000080"/>
<stop offset="0.0156" stop-color="#00008f"/>
<stop offset="0.0312" stop-color="#00009f"/>
<stop offset="0.0469" stop-color="#0000af"/>
<stop offset="0.0625" stop-color="#0000bf"/>
<stop offset="0.0781" stop-color="#0000cf"/>
<stop offset="0.0938" stop-color="#0000df"/>
<stop offset="0.1094" stop-color="#0000ef"/>
<stop offset="0.1250" stop-color="#0000ff"/>
<stop offset="0.1406" stop-color="#0010ff"/>
<stop offset="0.1562" stop-color="#0020ff"/>
<stop offset="0.1719" stop-color="#0030ff"/>
<stop offset="0.1875" stop-color="#0040ff"/>
<stop offset="0.2031" stop-color="#0050ff"/>
<stop offset="0.2188" stop-color="#0060ff"/>
<stop offset="0.2344" stop-color="#0070ff"/>
<stop offset="0.2500" stop-color="#0080ff"/>
<stop offset="0.2656" stop-color="#008fff"/>
<stop offset="0.2812" stop-color="#009fff"/>
<stop offset="0.2969" stop-color="#00afff"/>
<stop offset="0.3125" stop-color="#00bfff"/>
<stop offset="0.3281" stop-color="#00cfff"/>
<stop offset="0.3438" stop-color="#00dfff"/>
<stop offset="0.3594" stop-color="#00efff"/>
<stop offset="0.3750" stop-color="#00ffff"/>
<stop offset="0.3906" stop-color="#10ffef"/>
<stop offset="0.4062" stop-color="#20ffdf"/>
<stop offset="0.4219" stop-color="#30ffcf"/>
<stop offset="0.4375" stop-color="#40ffbf"/>
<stop offset="0.4531" stop-color="#50ffaf"/>
<stop offset="0.4688" stop-color="#60ff9f"/>
<stop offset="0.4844" stop-color="#70ff8f"/>
<stop offset="0.5000" stop-color="#80ff80"/>
<stop offset="0.5156" stop-color="#8fff70"/>
<stop offset="0.5312" stop-color="#9fff60"/>
<stop offset="0.5469" stop-color="#afff50"/>
<stop offset="0.5625" stop-color="#bfff40"/>
<stop offset="0.5781" stop-color="#cfff30"/>
<stop offset="0.5938" stop-color="#dfff20"/>
<stop offset="0.6094" stop-color="#efff10"/>
<stop offset="0.6250" stop-color="#ffff00"/>
<stop offset="0.6406" stop-color="#ffef00"/>
<stop offset="0.6562" stop-color="#ffdf00"/>
<stop offset="0.6719" stop-color="#ffcf00"/>
<stop offset="0.6875" stop-color="#ffbf00"/>
<stop offset="0.7031" stop-color="#ffaf00"/>
<stop offset="0.7188" stop-color="#ff9f00"/>
<stop offset="0.7344" stop-color="#ff8f00"/>
<stop offset="0.7500" stop-color="#ff8000"/>
<stop offset="0.7656" stop-color="#ff7000"/>
<stop offset="0.7812" stop-color="#ff6000"/>
<stop offset="0.7969" stop-color="#ff5000"/>
<stop offset="0.8125" stop-color="#ff4000"/>
<stop offset="0.8281" stop-color="#ff3000"/>
<stop offset="0.8438" stop-color="#ff2000"/>
<stop offset="0.8594" stop-color="#ff1000"/>
<stop offset="0.8750" stop-color="#ff0000"/>
<stop offset="0.8906" stop-color="#ef0000"/>
<stop offset="0.9062" stop-color="#df0000"/>
<stop offset="0.9219" stop-color="#cf0000"/>
<stop offset="0.9375" stop-color="#bf0000"/>
<stop offset="0.9531" stop-color="#af0000"/>
<stop offset="0.9688" stop-color="#9f0000"/>
<stop offset="0.9844" stop-color="#8f0000"/>
<stop offset="1.0000" stop-color="#800000"/>
</linearGradient>
<rect x="1224.5" y="7.8" width="29.2" height="539" fill="url(#jet)" stroke="#262626" stroke-width="1"/>
<text x="1263.1" y="558.4" font-size="35" fill="#262626">0</text>
<path d="M1253.7 431.6h-4" stroke="#262626" stroke-width="1.2"/>
<text x="1263.1" y="443.2" font-size="35" fill="#262626">0.2</text>
<path d="M1253.7 316.5h-4" stroke="#262626" stroke-width="1.2"/>
<text x="1263.1" y="328" font-size="35" fill="#262626">0.4</text>
<path d="M1253.7 201.3h-4" stroke="#262626" stroke-width="1.2"/>
<text x="1263.1" y="212.9" font-size="35" fill="#262626">0.6</text>
<path d="M1253.7 86.1h-4" stroke="#262626" stroke-width="1.2"/>
<text x="1263.1" y="97.7" font-size="35" fill="#262626">0.8</text>
<text x="662.2" y="634.6" font-size="42" font-style="italic" font-family='"Liberation Serif", serif' text-anchor="middle" fill="#262626" textLength="456" lengthAdjust="spacingAndGlyphs">Radial Direction <tspan font-style="normal">(</tspan>mm<tspan font-style="normal">)</tspan></text>
<text transform="translate(72 278.7) rotate(-90)" font-size="42" font-style="italic" font-family='"Liberation Serif", serif' text-anchor="middle" fill="#262626" textLength="426" lengthAdjust="spacingAndGlyphs">Flow Direction <tspan font-style="normal">(</tspan>mm<tspan font-style="normal">)</tspan></text>
<text x="662.3" y="707" font-size="54" text-anchor="middle" fill="#000" textLength="56" lengthAdjust="spacingAndGlyphs">(a)</text>
<clipPath id="cb"><rect x="141.3" y="766" width="512.9" height="513"/></clipPath>
<path d="M158.3 1216.4 L175.3 1192.3 L192.3 1177.7 L209.3 1166.7 L226.3 1159.5 L243.3 1154.9 L260.3 1151.5 L277.3 1149.3 L294.3 1147.4 L311.3 1145.3 L328.3 1143.3 L345.3 1141.7 L362.3 1140.2 L379.3 1138.8 L396.3 1137.4 L413.3 1136.3 L430.3 1135.3 L447.3 1134.4 L464.3 1133.6 L481.3 1132.8 L498.3 1132 L515.3 1131.3 L532.3 1130.8 L549.3 1130.2 L566.3 1129.8 L583.3 1129.3 L600.3 1128.9 L617.3 1128.6 L634.3 1128.2 L651.4 1127.9" stroke="#0000ff" stroke-width="3.4" fill="none" stroke-linejoin="round" clip-path="url(#cb)"/>
<path d="M158.3 1247.5 L175.3 1218.2 L192.3 1197.2 L209.3 1182.8 L226.3 1172 L243.3 1163.2 L260.3 1155.4 L277.3 1148.1 L294.3 1141.8 L311.3 1137.2 L328.3 1133.3 L345.3 1129.6 L362.3 1126.4 L379.3 1123.4 L396.3 1120.8 L413.3 1118.6 L430.3 1116.7 L447.3 1114.9 L464.3 1113.3 L481.3 1111.8 L498.3 1110.3 L515.3 1109 L532.3 1107.7 L549.3 1106.4 L566.3 1105.3 L583.3 1104.1 L600.3 1103 L617.3 1102 L634.3 1101 L651.4 1100" stroke="#000000" stroke-width="3.4" fill="none" stroke-linejoin="round" clip-path="url(#cb)"/>
<path d="M158.3 1268.2 L175.3 1243.2 L192.3 1221 L209.3 1201.8 L226.3 1184.6 L243.3 1169 L260.3 1154.6 L277.3 1141.1 L294.3 1129.1 L311.3 1119.4 L328.3 1110.9 L345.3 1102.9 L362.3 1095.6 L379.3 1088.8 L396.3 1082.8 L413.3 1077.7 L430.3 1073.1 L447.3 1068.8 L464.3 1064.8 L481.3 1061 L498.3 1057.4 L515.3 1054 L532.3 1050.8 L549.3 1047.7 L566.3 1044.7 L583.3 1041.8 L600.3 1039.2 L617.3 1036.7 L634.3 1034.4 L651.4 1032.2" stroke="#ff0000" stroke-width="3.4" fill="none" stroke-linejoin="round" stroke-dasharray="13 8" clip-path="url(#cb)"/>
<path d="M158.3 1273.9 L175.3 1261 L192.3 1243.1 L209.3 1220.5 L226.3 1198.2 L243.3 1175.1 L260.3 1155.1 L277.3 1135.5 L294.3 1117.6 L311.3 1101.4 L328.3 1086.4 L345.3 1072.5 L362.3 1059.7 L379.3 1047.8 L396.3 1036.7 L413.3 1025.9 L430.3 1015.9 L447.3 1007.3 L464.3 999.4 L481.3 992 L498.3 985.3 L515.3 979.4 L532.3 973.9 L549.3 968.5 L566.3 963.5 L583.3 958.9 L600.3 954.5 L617.3 950.3 L634.3 946.4 L651.4 943" stroke="#008000" stroke-width="3.4" fill="none" stroke-linejoin="round" stroke-dasharray="11 5 5 5" clip-path="url(#cb)"/>
<path d="M158.3 1279 L175.3 1273.9 L192.3 1259.8 L209.3 1239.2 L226.3 1213.6 L243.3 1186.7 L260.3 1158.5 L277.3 1134.2 L294.3 1112.6 L311.3 1090.1 L328.3 1068.4 L345.3 1045.4 L362.3 1022.5 L379.3 1000 L396.3 981.6 L413.3 962.1 L430.3 944.3 L447.3 930.8 L464.3 918.5 L481.3 905.4 L498.3 892.5 L515.3 880.2 L532.3 868.5 L549.3 857.8 L566.3 847.6 L583.3 837.7 L600.3 828.4 L617.3 820 L634.3 812.1 L651.4 805" stroke="#6d3535" stroke-width="3.4" fill="none" stroke-linejoin="round" clip-path="url(#cb)"/>
<path d="M158.3 1210.3L163.6 1216.4L158.3 1222.5L153 1216.4Z" stroke="#0000ff" stroke-width="3.6" fill="none"/>
<path d="M192.3 1171.6L197.6 1177.7L192.3 1183.8L187 1177.7Z" stroke="#0000ff" stroke-width="3.6" fill="none"/>
<path d="M226.3 1152.4L231.6 1158.4L226.3 1164.5L221 1158.4Z" stroke="#0000ff" stroke-width="3.6" fill="none"/>
<path d="M260.3 1144.1L265.6 1150.2L260.3 1156.3L255 1150.2Z" stroke="#0000ff" stroke-width="3.6" fill="none"/>
<path d="M294.3 1141.8L299.6 1147.9L294.3 1154L289 1147.9Z" stroke="#0000ff" stroke-width="3.6" fill="none"/>
<path d="M328.3 1137L333.6 1143.1L328.3 1149.1L323 1143.1Z" stroke="#0000ff" stroke-width="3.6" fill="none"/>
<path d="M362.3 1134.1L367.6 1140.2L362.3 1146.3L357 1140.2Z" stroke="#0000ff" stroke-width="3.6" fill="none"/>
<path d="M396.3 1131.3L401.6 1137.4L396.3 1143.5L391 1137.4Z" stroke="#0000ff" stroke-width="3.6" fill="none"/>
<path d="M430.3 1128.8L435.6 1134.8L430.3 1140.9L425.1 1134.8Z" stroke="#0000ff" stroke-width="3.6" fill="none"/>
<path d="M464.3 1127.2L469.6 1133.3L464.3 1139.4L459.1 1133.3Z" stroke="#0000ff" stroke-width="3.6" fill="none"/>
<path d="M498.3 1125.7L503.6 1131.8L498.3 1137.9L493.1 1131.8Z" stroke="#0000ff" stroke-width="3.6" fill="none"/>
<path d="M532.3 1124.9L537.6 1131L532.3 1137.1L527.1 1131Z" stroke="#0000ff" stroke-width="3.6" fill="none"/>
<path d="M566.3 1124.1L571.6 1130.2L566.3 1136.3L561.1 1130.2Z" stroke="#0000ff" stroke-width="3.6" fill="none"/>
<path d="M600.3 1123.1L605.6 1129.2L600.3 1135.3L595.1 1129.2Z" stroke="#0000ff" stroke-width="3.6" fill="none"/>
<path d="M634.3 1122.1L639.6 1128.2L634.3 1134.3L629.1 1128.2Z" stroke="#0000ff" stroke-width="3.6" fill="none"/>
<circle cx="158.3" cy="1247.5" r="4.8" stroke="#000000" stroke-width="4.0" fill="none"/>
<circle cx="192.3" cy="1197.2" r="4.8" stroke="#000000" stroke-width="4.0" fill="none"/>
<circle cx="226.3" cy="1172" r="4.8" stroke="#000000" stroke-width="4.0" fill="none"/>
<circle cx="260.3" cy="1149.5" r="4.8" stroke="#000000" stroke-width="4.0" fill="none"/>
<circle cx="294.3" cy="1141" r="4.8" stroke="#000000" stroke-width="4.0" fill="none"/>
<circle cx="328.3" cy="1132" r="4.8" stroke="#000000" stroke-width="4.0" fill="none"/>
<circle cx="362.3" cy="1126.1" r="4.8" stroke="#000000" stroke-width="4.0" fill="none"/>
<circle cx="396.3" cy="1120.2" r="4.8" stroke="#000000" stroke-width="4.0" fill="none"/>
<circle cx="430.3" cy="1115.6" r="4.8" stroke="#000000" stroke-width="4.0" fill="none"/>
<circle cx="464.3" cy="1113.3" r="4.8" stroke="#000000" stroke-width="4.0" fill="none"/>
<circle cx="498.3" cy="1110.2" r="4.8" stroke="#000000" stroke-width="4.0" fill="none"/>
<circle cx="532.3" cy="1107.7" r="4.8" stroke="#000000" stroke-width="4.0" fill="none"/>
<circle cx="566.3" cy="1104.8" r="4.8" stroke="#000000" stroke-width="4.0" fill="none"/>
<circle cx="600.3" cy="1102.3" r="4.8" stroke="#000000" stroke-width="4.0" fill="none"/>
<circle cx="634.3" cy="1100.2" r="4.8" stroke="#000000" stroke-width="4.0" fill="none"/>
<path d="M158.3 1272.2V1263.2 M152.3 1272.2h12 M152.3 1263.2h12" stroke="#ff0000" stroke-width="3" fill="none"/>
<path d="M158.3 1262v11.5 M152.6 1267.7h11.5 M154 1263.4l8.6 8.6 M154 1272l8.6 -8.6" stroke="#ff0000" stroke-width="3.4" fill="none"/>
<path d="M192.3 1225V1216 M186.3 1225h12 M186.3 1216h12" stroke="#ff0000" stroke-width="3" fill="none"/>
<path d="M192.3 1214.8v11.5 M186.6 1220.5h11.5 M188 1216.2l8.6 8.6 M188 1224.8l8.6 -8.6" stroke="#ff0000" stroke-width="3.4" fill="none"/>
<path d="M226.3 1188.6V1179.6 M220.3 1188.6h12 M220.3 1179.6h12" stroke="#ff0000" stroke-width="3" fill="none"/>
<path d="M226.3 1178.3v11.5 M220.6 1184.1h11.5 M222 1179.8l8.6 8.6 M222 1188.4l8.6 -8.6" stroke="#ff0000" stroke-width="3.4" fill="none"/>
<path d="M260.3 1151.4V1142.4 M254.3 1151.4h12 M254.3 1142.4h12" stroke="#ff0000" stroke-width="3" fill="none"/>
<path d="M260.3 1141.2v11.5 M254.6 1146.9h11.5 M256 1142.6l8.6 8.6 M256 1151.2l8.6 -8.6" stroke="#ff0000" stroke-width="3.4" fill="none"/>
<path d="M294.3 1132.2V1123.2 M288.3 1132.2h12 M288.3 1123.2h12" stroke="#ff0000" stroke-width="3" fill="none"/>
<path d="M294.3 1121.9v11.5 M288.6 1127.7h11.5 M290 1123.4l8.6 8.6 M290 1132l8.6 -8.6" stroke="#ff0000" stroke-width="3.4" fill="none"/>
<path d="M328.3 1110.9V1101.9 M322.3 1110.9h12 M322.3 1101.9h12" stroke="#ff0000" stroke-width="3" fill="none"/>
<path d="M328.3 1100.6v11.5 M322.6 1106.4h11.5 M324 1102.1l8.6 8.6 M324 1110.7l8.6 -8.6" stroke="#ff0000" stroke-width="3.4" fill="none"/>
<path d="M362.3 1099.3V1090.3 M356.3 1099.3h12 M356.3 1090.3h12" stroke="#ff0000" stroke-width="3" fill="none"/>
<path d="M362.3 1089.1v11.5 M356.6 1094.8h11.5 M358 1090.5l8.6 8.6 M358 1099.1l8.6 -8.6" stroke="#ff0000" stroke-width="3.4" fill="none"/>
<path d="M396.3 1086.5V1077.5 M390.3 1086.5h12 M390.3 1077.5h12" stroke="#ff0000" stroke-width="3" fill="none"/>
<path d="M396.3 1076.3v11.5 M390.6 1082h11.5 M392 1077.7l8.6 8.6 M392 1086.3l8.6 -8.6" stroke="#ff0000" stroke-width="3.4" fill="none"/>
<path d="M430.3 1077.5V1068.5 M424.3 1077.5h12 M424.3 1068.5h12" stroke="#ff0000" stroke-width="3" fill="none"/>
<path d="M430.3 1067.3v11.5 M424.6 1073h11.5 M426 1068.7l8.6 8.6 M426 1077.3l8.6 -8.6" stroke="#ff0000" stroke-width="3.4" fill="none"/>
<path d="M464.3 1069.6V1060.6 M458.3 1069.6h12 M458.3 1060.6h12" stroke="#ff0000" stroke-width="3" fill="none"/>
<path d="M464.3 1059.3v11.5 M458.6 1065.1h11.5 M460 1060.8l8.6 8.6 M460 1069.4l8.6 -8.6" stroke="#ff0000" stroke-width="3.4" fill="none"/>
<path d="M498.3 1060.6V1051.6 M492.3 1060.6h12 M492.3 1051.6h12" stroke="#ff0000" stroke-width="3" fill="none"/>
<path d="M498.3 1050.4v11.5 M492.6 1056.1h11.5 M494 1051.8l8.6 8.6 M494 1060.4l8.6 -8.6" stroke="#ff0000" stroke-width="3.4" fill="none"/>
<path d="M532.3 1053.4V1044.4 M526.3 1053.4h12 M526.3 1044.4h12" stroke="#ff0000" stroke-width="3" fill="none"/>
<path d="M532.3 1043.2v11.5 M526.6 1048.9h11.5 M528 1044.6l8.6 8.6 M528 1053.2l8.6 -8.6" stroke="#ff0000" stroke-width="3.4" fill="none"/>
<path d="M566.3 1047.5V1038.5 M560.3 1047.5h12 M560.3 1038.5h12" stroke="#ff0000" stroke-width="3" fill="none"/>
<path d="M566.3 1037.3v11.5 M560.6 1043h11.5 M562 1038.7l8.6 8.6 M562 1047.3l8.6 -8.6" stroke="#ff0000" stroke-width="3.4" fill="none"/>
<path d="M600.3 1041.4V1032.4 M594.3 1041.4h12 M594.3 1032.4h12" stroke="#ff0000" stroke-width="3" fill="none"/>
<path d="M600.3 1031.1v11.5 M594.6 1036.9h11.5 M596 1032.6l8.6 8.6 M596 1041.2l8.6 -8.6" stroke="#ff0000" stroke-width="3.4" fill="none"/>
<path d="M634.3 1037.8V1028.8 M628.3 1037.8h12 M628.3 1028.8h12" stroke="#ff0000" stroke-width="3" fill="none"/>
<path d="M634.3 1027.5v11.5 M628.6 1033.3h11.5 M630 1029l8.6 8.6 M630 1037.6l8.6 -8.6" stroke="#ff0000" stroke-width="3.4" fill="none"/>
<path d="M158.3 1275.2V1270 M152.8 1275.2h11 M152.8 1270h11" stroke="#008000" stroke-width="2.6" fill="none"/>
<rect x="154.4" y="1268.6" width="7.9" height="7.9" stroke="#008000" stroke-width="3.8" fill="none" stroke-linejoin="round"/>
<path d="M175.3 1261.6V1256.4 M169.8 1261.6h11 M169.8 1256.4h11" stroke="#008000" stroke-width="2.6" fill="none"/>
<rect x="171.4" y="1255" width="7.9" height="7.9" stroke="#008000" stroke-width="3.8" fill="none" stroke-linejoin="round"/>
<path d="M192.3 1234.6V1229.5 M186.8 1234.6h11 M186.8 1229.5h11" stroke="#008000" stroke-width="2.6" fill="none"/>
<rect x="188.4" y="1228.1" width="7.9" height="7.9" stroke="#008000" stroke-width="3.8" fill="none" stroke-linejoin="round"/>
<path d="M209.3 1204.6V1199.5 M203.8 1204.6h11 M203.8 1199.5h11" stroke="#008000" stroke-width="2.6" fill="none"/>
<rect x="205.4" y="1198.1" width="7.9" height="7.9" stroke="#008000" stroke-width="3.8" fill="none" stroke-linejoin="round"/>
<path d="M226.3 1179V1173.8 M220.8 1179h11 M220.8 1173.8h11" stroke="#008000" stroke-width="2.6" fill="none"/>
<rect x="222.4" y="1172.5" width="7.9" height="7.9" stroke="#008000" stroke-width="3.8" fill="none" stroke-linejoin="round"/>
<path d="M243.3 1154.3V1149.2 M237.8 1154.3h11 M237.8 1149.2h11" stroke="#008000" stroke-width="2.6" fill="none"/>
<rect x="239.4" y="1147.8" width="7.9" height="7.9" stroke="#008000" stroke-width="3.8" fill="none" stroke-linejoin="round"/>
<path d="M260.3 1137.9V1132.8 M254.8 1137.9h11 M254.8 1132.8h11" stroke="#008000" stroke-width="2.6" fill="none"/>
<rect x="256.4" y="1131.4" width="7.9" height="7.9" stroke="#008000" stroke-width="3.8" fill="none" stroke-linejoin="round"/>
<path d="M277.3 1121.5V1116.4 M271.8 1121.5h11 M271.8 1116.4h11" stroke="#008000" stroke-width="2.6" fill="none"/>
<rect x="273.4" y="1115" width="7.9" height="7.9" stroke="#008000" stroke-width="3.8" fill="none" stroke-linejoin="round"/>
<path d="M294.3 1106.9V1101.8 M288.8 1106.9h11 M288.8 1101.8h11" stroke="#008000" stroke-width="2.6" fill="none"/>
<rect x="290.4" y="1100.4" width="7.9" height="7.9" stroke="#008000" stroke-width="3.8" fill="none" stroke-linejoin="round"/>
<path d="M311.3 1087.9V1080.2 M305.8 1087.9h11 M305.8 1080.2h11" stroke="#008000" stroke-width="2.6" fill="none"/>
<rect x="307.4" y="1080.1" width="7.9" height="7.9" stroke="#008000" stroke-width="3.8" fill="none" stroke-linejoin="round"/>
<path d="M328.3 1075.3V1067.6 M322.8 1075.3h11 M322.8 1067.6h11" stroke="#008000" stroke-width="2.6" fill="none"/>
<rect x="324.4" y="1067.5" width="7.9" height="7.9" stroke="#008000" stroke-width="3.8" fill="none" stroke-linejoin="round"/>
<path d="M345.3 1064.8V1057.1 M339.8 1064.8h11 M339.8 1057.1h11" stroke="#008000" stroke-width="2.6" fill="none"/>
<rect x="341.4" y="1057" width="7.9" height="7.9" stroke="#008000" stroke-width="3.8" fill="none" stroke-linejoin="round"/>
<path d="M362.3 1055.1V1047.4 M356.8 1055.1h11 M356.8 1047.4h11" stroke="#008000" stroke-width="2.6" fill="none"/>
<rect x="358.4" y="1047.3" width="7.9" height="7.9" stroke="#008000" stroke-width="3.8" fill="none" stroke-linejoin="round"/>
<path d="M379.3 1046.4V1038.7 M373.8 1046.4h11 M373.8 1038.7h11" stroke="#008000" stroke-width="2.6" fill="none"/>
<rect x="375.4" y="1038.6" width="7.9" height="7.9" stroke="#008000" stroke-width="3.8" fill="none" stroke-linejoin="round"/>
<path d="M396.3 1035.1V1024.8 M390.8 1035.1h11 M390.8 1024.8h11" stroke="#008000" stroke-width="2.6" fill="none"/>
<rect x="392.4" y="1026" width="7.9" height="7.9" stroke="#008000" stroke-width="3.8" fill="none" stroke-linejoin="round"/>
<path d="M413.3 1028.4V1015.6 M407.8 1028.4h11 M407.8 1015.6h11" stroke="#008000" stroke-width="2.6" fill="none"/>
<rect x="409.4" y="1018" width="7.9" height="7.9" stroke="#008000" stroke-width="3.8" fill="none" stroke-linejoin="round"/>
<path d="M430.3 1021.5V1006.1 M424.8 1021.5h11 M424.8 1006.1h11" stroke="#008000" stroke-width="2.6" fill="none"/>
<rect x="426.4" y="1009.8" width="7.9" height="7.9" stroke="#008000" stroke-width="3.8" fill="none" stroke-linejoin="round"/>
<path d="M447.3 1013.5V998.1 M441.8 1013.5h11 M441.8 998.1h11" stroke="#008000" stroke-width="2.6" fill="none"/>
<rect x="443.4" y="1001.9" width="7.9" height="7.9" stroke="#008000" stroke-width="3.8" fill="none" stroke-linejoin="round"/>
<path d="M464.3 1009.4V991.5 M458.8 1009.4h11 M458.8 991.5h11" stroke="#008000" stroke-width="2.6" fill="none"/>
<rect x="460.4" y="996.5" width="7.9" height="7.9" stroke="#008000" stroke-width="3.8" fill="none" stroke-linejoin="round"/>
<path d="M481.3 997.4V982 M475.8 997.4h11 M475.8 982h11" stroke="#008000" stroke-width="2.6" fill="none"/>
<rect x="477.4" y="985.7" width="7.9" height="7.9" stroke="#008000" stroke-width="3.8" fill="none" stroke-linejoin="round"/>
<path d="M498.3 991.5V976.1 M492.8 991.5h11 M492.8 976.1h11" stroke="#008000" stroke-width="2.6" fill="none"/>
<rect x="494.4" y="979.8" width="7.9" height="7.9" stroke="#008000" stroke-width="3.8" fill="none" stroke-linejoin="round"/>
<path d="M515.3 984.3V968.9 M509.8 984.3h11 M509.8 968.9h11" stroke="#008000" stroke-width="2.6" fill="none"/>
<rect x="511.4" y="972.6" width="7.9" height="7.9" stroke="#008000" stroke-width="3.8" fill="none" stroke-linejoin="round"/>
<path d="M532.3 981.7V963.8 M526.8 981.7h11 M526.8 963.8h11" stroke="#008000" stroke-width="2.6" fill="none"/>
<rect x="528.4" y="968.8" width="7.9" height="7.9" stroke="#008000" stroke-width="3.8" fill="none" stroke-linejoin="round"/>
<path d="M549.3 978.6V960.7 M543.8 978.6h11 M543.8 960.7h11" stroke="#008000" stroke-width="2.6" fill="none"/>
<rect x="545.4" y="965.7" width="7.9" height="7.9" stroke="#008000" stroke-width="3.8" fill="none" stroke-linejoin="round"/>
<path d="M566.3 972V956.6 M560.8 972h11 M560.8 956.6h11" stroke="#008000" stroke-width="2.6" fill="none"/>
<rect x="562.4" y="960.3" width="7.9" height="7.9" stroke="#008000" stroke-width="3.8" fill="none" stroke-linejoin="round"/>
<path d="M583.3 962.5V954.8 M577.8 962.5h11 M577.8 954.8h11" stroke="#008000" stroke-width="2.6" fill="none"/>
<rect x="579.4" y="954.7" width="7.9" height="7.9" stroke="#008000" stroke-width="3.8" fill="none" stroke-linejoin="round"/>
<path d="M600.3 961.2V945.8 M594.8 961.2h11 M594.8 945.8h11" stroke="#008000" stroke-width="2.6" fill="none"/>
<rect x="596.4" y="949.6" width="7.9" height="7.9" stroke="#008000" stroke-width="3.8" fill="none" stroke-linejoin="round"/>
<path d="M617.3 957.1V944.3 M611.8 957.1h11 M611.8 944.3h11" stroke="#008000" stroke-width="2.6" fill="none"/>
<rect x="613.4" y="946.7" width="7.9" height="7.9" stroke="#008000" stroke-width="3.8" fill="none" stroke-linejoin="round"/>
<path d="M634.3 954V938.6 M628.8 954h11 M628.8 938.6h11" stroke="#008000" stroke-width="2.6" fill="none"/>
<rect x="630.4" y="942.4" width="7.9" height="7.9" stroke="#008000" stroke-width="3.8" fill="none" stroke-linejoin="round"/>
<path d="M651.4 951.4V933.5 M645.9 951.4h11 M645.9 933.5h11" stroke="#008000" stroke-width="2.6" fill="none"/>
<rect x="647.4" y="938.5" width="7.9" height="7.9" stroke="#008000" stroke-width="3.8" fill="none" stroke-linejoin="round"/>
<path d="M158.3 1278V1272.8 M152.8 1278h11 M152.8 1272.8h11" stroke="#6d3535" stroke-width="2.6" fill="none"/>
<circle cx="158.3" cy="1275.4" r="4.3" stroke="#6d3535" stroke-width="3.4" fill="none"/>
<path d="M192.3 1246.7V1236.4 M186.8 1246.7h11 M186.8 1236.4h11" stroke="#6d3535" stroke-width="2.6" fill="none"/>
<circle cx="192.3" cy="1241.6" r="4.3" stroke="#6d3535" stroke-width="3.4" fill="none"/>
<path d="M226.3 1186.9V1161.3 M220.8 1186.9h11 M220.8 1161.3h11" stroke="#6d3535" stroke-width="2.6" fill="none"/>
<circle cx="226.3" cy="1174.1" r="4.3" stroke="#6d3535" stroke-width="3.4" fill="none"/>
<path d="M260.3 1131V1101.2 M254.8 1131h11 M254.8 1101.2h11" stroke="#6d3535" stroke-width="2.6" fill="none"/>
<circle cx="260.3" cy="1116.1" r="4.3" stroke="#6d3535" stroke-width="3.4" fill="none"/>
<path d="M294.3 1087.9V1055.1 M288.8 1087.9h11 M288.8 1055.1h11" stroke="#6d3535" stroke-width="2.6" fill="none"/>
<circle cx="294.3" cy="1071.5" r="4.3" stroke="#6d3535" stroke-width="3.4" fill="none"/>
<path d="M328.3 1034.8V1019.4 M322.8 1034.8h11 M322.8 1019.4h11" stroke="#6d3535" stroke-width="2.6" fill="none"/>
<circle cx="328.3" cy="1027.1" r="4.3" stroke="#6d3535" stroke-width="3.4" fill="none"/>
<path d="M362.3 1011V980.2 M356.8 1011h11 M356.8 980.2h11" stroke="#6d3535" stroke-width="2.6" fill="none"/>
<circle cx="362.3" cy="995.6" r="4.3" stroke="#6d3535" stroke-width="3.4" fill="none"/>
<path d="M396.3 988.1V945 M390.8 988.1h11 M390.8 945h11" stroke="#6d3535" stroke-width="2.6" fill="none"/>
<circle cx="396.3" cy="966.6" r="4.3" stroke="#6d3535" stroke-width="3.4" fill="none"/>
<path d="M430.3 951.7V931.7 M424.8 951.7h11 M424.8 931.7h11" stroke="#6d3535" stroke-width="2.6" fill="none"/>
<circle cx="430.3" cy="941.7" r="4.3" stroke="#6d3535" stroke-width="3.4" fill="none"/>
<path d="M464.3 945.6V901.4 M458.8 945.6h11 M458.8 901.4h11" stroke="#6d3535" stroke-width="2.6" fill="none"/>
<circle cx="464.3" cy="923.5" r="4.3" stroke="#6d3535" stroke-width="3.4" fill="none"/>
<path d="M498.3 906.3V884.2 M492.8 906.3h11 M492.8 884.2h11" stroke="#6d3535" stroke-width="2.6" fill="none"/>
<circle cx="498.3" cy="895.3" r="4.3" stroke="#6d3535" stroke-width="3.4" fill="none"/>
<path d="M532.3 910.7V856.3 M526.8 910.7h11 M526.8 856.3h11" stroke="#6d3535" stroke-width="2.6" fill="none"/>
<circle cx="532.3" cy="883.5" r="4.3" stroke="#6d3535" stroke-width="3.4" fill="none"/>
<path d="M566.3 899.9V850.6 M560.8 899.9h11 M560.8 850.6h11" stroke="#6d3535" stroke-width="2.6" fill="none"/>
<circle cx="566.3" cy="875.3" r="4.3" stroke="#6d3535" stroke-width="3.4" fill="none"/>
<path d="M600.3 878.3V840.4 M594.8 878.3h11 M594.8 840.4h11" stroke="#6d3535" stroke-width="2.6" fill="none"/>
<circle cx="600.3" cy="859.4" r="4.3" stroke="#6d3535" stroke-width="3.4" fill="none"/>
<path d="M634.3 881.4V828.1 M628.8 881.4h11 M628.8 828.1h11" stroke="#6d3535" stroke-width="2.6" fill="none"/>
<circle cx="634.3" cy="854.7" r="4.3" stroke="#6d3535" stroke-width="3.4" fill="none"/>
<rect x="146.4" y="771.1" width="204.7" height="247.5" fill="#fff" stroke="#262626" stroke-width="3"/>
<path d="M180.9 781.2V814.6 M175.2 781.2h11.4 M175.2 814.6h11.4" stroke="#0000ff" stroke-width="2.6" fill="none"/>
<path d="M180.9 792.4L186.4 797.9L180.9 803.4L175.4 797.9Z" stroke="#0000ff" stroke-width="3.2" fill="none" stroke-linejoin="miter"/>
<text x="214.4" y="808.4" font-size="39" fill="#000" font-family='"Liberation Serif", serif' textLength="128" lengthAdjust="spacingAndGlyphs"><tspan font-style="italic">ζ</tspan> = 1/2</text>
<path d="M180.9 829.2V862.6 M175.2 829.2h11.4 M175.2 862.6h11.4" stroke="#000000" stroke-width="2.6" fill="none"/>
<circle cx="180.9" cy="845.9" r="4.7" stroke="#000000" stroke-width="3.2" fill="none"/>
<text x="214.4" y="856.4" font-size="39" fill="#000" font-family='"Liberation Serif", serif' textLength="88" lengthAdjust="spacingAndGlyphs"><tspan font-style="italic">ζ</tspan> = 1</text>
<path d="M180.9 877.2V910.6 M175.2 877.2h11.4 M175.2 910.6h11.4" stroke="#ff0000" stroke-width="2.6" fill="none"/>
<path d="M180.9 887.6v12.5 M174.7 893.9h12.5 M176.2 889.2l9.4 9.4 M176.2 898.5l9.4 -9.4" stroke="#ff0000" stroke-width="3.2" fill="none"/>
<text x="214.4" y="904.4" font-size="39" fill="#000" font-family='"Liberation Serif", serif' textLength="88" lengthAdjust="spacingAndGlyphs"><tspan font-style="italic">ζ</tspan> = 2</text>
<path d="M180.9 925.1V958.5 M175.2 925.1h11.4 M175.2 958.5h11.4" stroke="#008000" stroke-width="2.6" fill="none"/>
<rect x="176.2" y="937.2" width="9.3" height="9.3" stroke="#008000" stroke-width="3.2" fill="none" stroke-linejoin="round"/>
<text x="214.4" y="952.3" font-size="39" fill="#000" font-family='"Liberation Serif", serif' textLength="88" lengthAdjust="spacingAndGlyphs"><tspan font-style="italic">ζ</tspan> = 3</text>
<path d="M180.9 973.1V1006.5 M175.2 973.1h11.4 M175.2 1006.5h11.4" stroke="#6d3535" stroke-width="2.6" fill="none"/>
<circle cx="180.9" cy="989.8" r="4.7" stroke="#6d3535" stroke-width="3.2" fill="none"/>
<text x="214.4" y="1000.3" font-size="39" fill="#000" font-family='"Liberation Serif", serif' textLength="88" lengthAdjust="spacingAndGlyphs"><tspan font-style="italic">ζ</tspan> = 4</text>
<rect x="141.3" y="766" width="512.9" height="513" fill="none" stroke="#262626" stroke-width="3.4"/>
<path d="M141.3 1279v-8 M141.3 766v8 M267.9 1279v-8 M267.9 766v8 M394.6 1279v-8 M394.6 766v8 M521.2 1279v-8 M521.2 766v8 M647.9 1279v-8 M647.9 766v8 M141.3 1279h8 M654.2 1279h-8 M141.3 1150.8h8 M654.2 1150.8h-8 M141.3 1022.5h8 M654.2 1022.5h-8 M141.3 894.2h8 M654.2 894.2h-8 M141.3 766h8 M654.2 766h-8" stroke="#262626" stroke-width="3" fill="none"/>
<text x="141.3" y="1334.6" font-size="47" text-anchor="middle" fill="#262626">0</text>
<text x="267.9" y="1334.6" font-size="47" text-anchor="middle" fill="#262626">2</text>
<text x="394.6" y="1334.6" font-size="47" text-anchor="middle" fill="#262626">4</text>
<text x="521.2" y="1334.6" font-size="47" text-anchor="middle" fill="#262626">6</text>
<text x="647.9" y="1334.6" font-size="47" text-anchor="middle" fill="#262626">8</text>
<text x="127.3" y="1295.6" font-size="47" text-anchor="end" fill="#262626">0</text>
<text x="127.3" y="1167.3" font-size="47" text-anchor="end" fill="#262626">0.5</text>
<text x="127.3" y="1039.1" font-size="47" text-anchor="end" fill="#262626">1</text>
<text x="127.3" y="910.9" font-size="47" text-anchor="end" fill="#262626">1.5</text>
<text x="127.3" y="782.6" font-size="47" text-anchor="end" fill="#262626">2</text>
<text transform="translate(38 1023) rotate(-90)" font-size="48" text-anchor="middle" fill="#262626" font-family='"Liberation Serif", serif' textLength="162" lengthAdjust="spacingAndGlyphs"><tspan font-style="italic">S</tspan><tspan font-size="32" font-style="italic" dy="9">ζ</tspan><tspan dy="-9" dx="3">(</tspan><tspan font-style="italic">z</tspan>, <tspan font-style="italic">z</tspan>′)</text>
<text x="397.5" y="1385.5" font-size="48" text-anchor="middle" fill="#262626" font-family='"Liberation Serif", serif' textLength="273" lengthAdjust="spacingAndGlyphs">|<tspan font-style="italic">z</tspan> − <tspan font-style="italic">z</tspan>′| (<tspan font-style="italic">mm</tspan>)</text>
<text x="626.5" y="1385.5" font-size="46" text-anchor="middle" fill="#000" font-family='"Liberation Serif", serif'>(b)</text>
<clipPath id="cc"><rect x="816.4" y="765.9" width="512.9" height="513"/></clipPath>
<path d="M816.4 1005.3 L1329.3 1005.3" stroke="#6d3535" stroke-width="3.2" fill="none" stroke-linejoin="round"/>
<path d="M816.4 1142.1 L1329.3 1142.1" stroke="#008000" stroke-width="3.2" fill="none" stroke-linejoin="round"/>
<path d="M816.4 1210.5 L1329.3 1210.5" stroke="#ff0000" stroke-width="3.2" fill="none" stroke-linejoin="round"/>
<path d="M833.4 -89.1 L867.4 783.7 L901.4 862 L935.4 915.7 L969.4 929.7 L1003.4 958.8 L1037.4 973.8 L1071.4 986.5 L1105.4 997.1 L1139.4 1001.9 L1173.4 1005.3 L1207.4 1015.2 L1241.4 1027.9 L1275.4 1031.3 L1309.4 1037.1" stroke="#6d3535" stroke-width="3.2" fill="none" stroke-linejoin="round" stroke-dasharray="13 9" clip-path="url(#cc)"/>
<path d="M833.4 975.9 L867.4 1086 L901.4 1103.8 L935.4 1117.8 L969.4 1122.6 L1003.4 1129.8 L1037.4 1133.2 L1071.4 1137 L1105.4 1139 L1139.4 1139 L1173.4 1141.1 L1207.4 1143.1 L1241.4 1146.2 L1275.4 1146.5 L1309.4 1147.9" stroke="#008000" stroke-width="3.2" fill="none" stroke-linejoin="round" stroke-dasharray="13 9" clip-path="url(#cc)"/>
<path d="M833.4 1194.4 L867.4 1201.6 L901.4 1204 L935.4 1206.1 L969.4 1206.7 L1003.4 1208.4 L1037.4 1208.8 L1071.4 1210.2 L1105.4 1210.5 L1139.4 1210.5 L1173.4 1210.5 L1207.4 1210.8 L1241.4 1211.5 L1275.4 1211.2 L1309.4 1211.5" stroke="#ff0000" stroke-width="3.2" fill="none" stroke-linejoin="round" stroke-dasharray="13 9" clip-path="url(#cc)"/>
<path d="M833.4 1255 L850.4 1255 L867.4 1255 L884.4 1255 L901.4 1255 L918.4 1255 L935.4 1255 L952.4 1255 L969.4 1255 L986.4 1255 L1003.4 1255 L1020.4 1255 L1037.4 1255 L1054.4 1255 L1071.4 1255 L1088.4 1255 L1105.4 1255 L1122.4 1255 L1139.4 1255 L1156.4 1255 L1173.4 1255 L1190.4 1255 L1207.4 1255 L1224.4 1255 L1241.4 1255 L1258.4 1255 L1275.4 1255 L1292.4 1255 L1309.4 1255 L1326.5 1255" stroke="#0000ff" stroke-width="3.2" fill="none" stroke-linejoin="round" stroke-dasharray="13 9" clip-path="url(#cc)"/>
<path d="M816.4 1255 L1329.3 1255" stroke="#000000" stroke-width="2.2" fill="none" stroke-linejoin="round"/>
<path d="M833.4 1249L838.6 1255L833.4 1261L828.2 1255Z" stroke="#0000ff" stroke-width="3.3" fill="none"/>
<path d="M850.4 1249L855.6 1255L850.4 1261L845.2 1255Z" stroke="#0000ff" stroke-width="3.3" fill="none"/>
<path d="M867.4 1249L872.6 1255L867.4 1261L862.2 1255Z" stroke="#0000ff" stroke-width="3.3" fill="none"/>
<path d="M884.4 1249L889.6 1255L884.4 1261L879.2 1255Z" stroke="#0000ff" stroke-width="3.3" fill="none"/>
<path d="M901.4 1249L906.6 1255L901.4 1261L896.2 1255Z" stroke="#0000ff" stroke-width="3.3" fill="none"/>
<path d="M918.4 1249L923.6 1255L918.4 1261L913.2 1255Z" stroke="#0000ff" stroke-width="3.3" fill="none"/>
<path d="M935.4 1249L940.6 1255L935.4 1261L930.2 1255Z" stroke="#0000ff" stroke-width="3.3" fill="none"/>
<path d="M952.4 1249L957.6 1255L952.4 1261L947.2 1255Z" stroke="#0000ff" stroke-width="3.3" fill="none"/>
<path d="M969.4 1249L974.6 1255L969.4 1261L964.2 1255Z" stroke="#0000ff" stroke-width="3.3" fill="none"/>
<path d="M986.4 1249L991.6 1255L986.4 1261L981.2 1255Z" stroke="#0000ff" stroke-width="3.3" fill="none"/>
<path d="M1003.4 1249L1008.6 1255L1003.4 1261L998.2 1255Z" stroke="#0000ff" stroke-width="3.3" fill="none"/>
<path d="M1020.4 1249L1025.6 1255L1020.4 1261L1015.2 1255Z" stroke="#0000ff" stroke-width="3.3" fill="none"/>
<path d="M1037.4 1249L1042.6 1255L1037.4 1261L1032.2 1255Z" stroke="#0000ff" stroke-width="3.3" fill="none"/>
<path d="M1054.4 1249L1059.6 1255L1054.4 1261L1049.2 1255Z" stroke="#0000ff" stroke-width="3.3" fill="none"/>
<path d="M1071.4 1249L1076.6 1255L1071.4 1261L1066.2 1255Z" stroke="#0000ff" stroke-width="3.3" fill="none"/>
<path d="M1088.4 1249L1093.6 1255L1088.4 1261L1083.2 1255Z" stroke="#0000ff" stroke-width="3.3" fill="none"/>
<path d="M1105.4 1249L1110.6 1255L1105.4 1261L1100.2 1255Z" stroke="#0000ff" stroke-width="3.3" fill="none"/>
<path d="M1122.4 1249L1127.6 1255L1122.4 1261L1117.2 1255Z" stroke="#0000ff" stroke-width="3.3" fill="none"/>
<path d="M1139.4 1249L1144.6 1255L1139.4 1261L1134.2 1255Z" stroke="#0000ff" stroke-width="3.3" fill="none"/>
<path d="M1156.4 1249L1161.6 1255L1156.4 1261L1151.2 1255Z" stroke="#0000ff" stroke-width="3.3" fill="none"/>
<path d="M1173.4 1249L1178.6 1255L1173.4 1261L1168.2 1255Z" stroke="#0000ff" stroke-width="3.3" fill="none"/>
<path d="M1190.4 1249L1195.6 1255L1190.4 1261L1185.2 1255Z" stroke="#0000ff" stroke-width="3.3" fill="none"/>
<path d="M1207.4 1249L1212.6 1255L1207.4 1261L1202.2 1255Z" stroke="#0000ff" stroke-width="3.3" fill="none"/>
<path d="M1224.4 1249L1229.6 1255L1224.4 1261L1219.2 1255Z" stroke="#0000ff" stroke-width="3.3" fill="none"/>
<path d="M1241.4 1249L1246.6 1255L1241.4 1261L1236.2 1255Z" stroke="#0000ff" stroke-width="3.3" fill="none"/>
<path d="M1258.4 1249L1263.6 1255L1258.4 1261L1253.2 1255Z" stroke="#0000ff" stroke-width="3.3" fill="none"/>
<path d="M1275.4 1249L1280.6 1255L1275.4 1261L1270.2 1255Z" stroke="#0000ff" stroke-width="3.3" fill="none"/>
<path d="M1292.4 1249L1297.6 1255L1292.4 1261L1287.2 1255Z" stroke="#0000ff" stroke-width="3.3" fill="none"/>
<path d="M1309.4 1249L1314.6 1255L1309.4 1261L1304.2 1255Z" stroke="#0000ff" stroke-width="3.3" fill="none"/>
<path d="M1326.5 1249L1331.7 1255L1326.5 1261L1321.3 1255Z" stroke="#0000ff" stroke-width="3.3" fill="none"/>
<rect x="829.5" y="1190.5" width="7.9" height="7.9" stroke="#ff0000" stroke-width="3.5" fill="none" stroke-linejoin="round"/>
<rect x="863.5" y="1197.7" width="7.9" height="7.9" stroke="#ff0000" stroke-width="3.5" fill="none" stroke-linejoin="round"/>
<rect x="897.5" y="1200.1" width="7.9" height="7.9" stroke="#ff0000" stroke-width="3.5" fill="none" stroke-linejoin="round"/>
<rect x="931.5" y="1202.1" width="7.9" height="7.9" stroke="#ff0000" stroke-width="3.5" fill="none" stroke-linejoin="round"/>
<rect x="965.5" y="1202.8" width="7.9" height="7.9" stroke="#ff0000" stroke-width="3.5" fill="none" stroke-linejoin="round"/>
<rect x="999.5" y="1204.5" width="7.9" height="7.9" stroke="#ff0000" stroke-width="3.5" fill="none" stroke-linejoin="round"/>
<rect x="1033.5" y="1204.8" width="7.9" height="7.9" stroke="#ff0000" stroke-width="3.5" fill="none" stroke-linejoin="round"/>
<rect x="1067.5" y="1206.2" width="7.9" height="7.9" stroke="#ff0000" stroke-width="3.5" fill="none" stroke-linejoin="round"/>
<rect x="1101.5" y="1206.5" width="7.9" height="7.9" stroke="#ff0000" stroke-width="3.5" fill="none" stroke-linejoin="round"/>
<rect x="1135.5" y="1206.5" width="7.9" height="7.9" stroke="#ff0000" stroke-width="3.5" fill="none" stroke-linejoin="round"/>
<rect x="1169.5" y="1206.5" width="7.9" height="7.9" stroke="#ff0000" stroke-width="3.5" fill="none" stroke-linejoin="round"/>
<rect x="1203.5" y="1206.9" width="7.9" height="7.9" stroke="#ff0000" stroke-width="3.5" fill="none" stroke-linejoin="round"/>
<rect x="1237.5" y="1207.6" width="7.9" height="7.9" stroke="#ff0000" stroke-width="3.5" fill="none" stroke-linejoin="round"/>
<rect x="1271.5" y="1207.2" width="7.9" height="7.9" stroke="#ff0000" stroke-width="3.5" fill="none" stroke-linejoin="round"/>
<rect x="1305.5" y="1207.6" width="7.9" height="7.9" stroke="#ff0000" stroke-width="3.5" fill="none" stroke-linejoin="round"/>
<path d="M833.4 969.6v12.5 M827.2 975.9h12.5 M828.7 971.2l9.4 9.4 M828.7 980.6l9.4 -9.4" stroke="#008000" stroke-width="3.6" fill="none"/>
<path d="M867.4 1079.8v12.5 M861.2 1086h12.5 M862.7 1081.3l9.4 9.4 M862.7 1090.7l9.4 -9.4" stroke="#008000" stroke-width="3.6" fill="none"/>
<path d="M901.4 1097.5v12.5 M895.2 1103.8h12.5 M896.7 1099.1l9.4 9.4 M896.7 1108.5l9.4 -9.4" stroke="#008000" stroke-width="3.6" fill="none"/>
<path d="M935.4 1111.6v12.5 M929.2 1117.8h12.5 M930.7 1113.1l9.4 9.4 M930.7 1122.5l9.4 -9.4" stroke="#008000" stroke-width="3.6" fill="none"/>
<path d="M969.4 1116.4v12.5 M963.2 1122.6h12.5 M964.7 1117.9l9.4 9.4 M964.7 1127.3l9.4 -9.4" stroke="#008000" stroke-width="3.6" fill="none"/>
<path d="M1003.4 1123.5v12.5 M997.2 1129.8h12.5 M998.7 1125.1l9.4 9.4 M998.7 1134.5l9.4 -9.4" stroke="#008000" stroke-width="3.6" fill="none"/>
<path d="M1037.4 1127v12.5 M1031.2 1133.2h12.5 M1032.7 1128.5l9.4 9.4 M1032.7 1137.9l9.4 -9.4" stroke="#008000" stroke-width="3.6" fill="none"/>
<path d="M1071.4 1130.7v12.5 M1065.2 1137h12.5 M1066.7 1132.3l9.4 9.4 M1066.7 1141.7l9.4 -9.4" stroke="#008000" stroke-width="3.6" fill="none"/>
<path d="M1105.4 1132.8v12.5 M1099.2 1139h12.5 M1100.7 1134.3l9.4 9.4 M1100.7 1143.7l9.4 -9.4" stroke="#008000" stroke-width="3.6" fill="none"/>
<path d="M1139.4 1132.8v12.5 M1133.2 1139h12.5 M1134.7 1134.3l9.4 9.4 M1134.7 1143.7l9.4 -9.4" stroke="#008000" stroke-width="3.6" fill="none"/>
<path d="M1173.4 1134.8v12.5 M1167.2 1141.1h12.5 M1168.7 1136.4l9.4 9.4 M1168.7 1145.8l9.4 -9.4" stroke="#008000" stroke-width="3.6" fill="none"/>
<path d="M1207.4 1136.9v12.5 M1201.2 1143.1h12.5 M1202.8 1138.4l9.4 9.4 M1202.8 1147.8l9.4 -9.4" stroke="#008000" stroke-width="3.6" fill="none"/>
<path d="M1241.4 1140v12.5 M1235.2 1146.2h12.5 M1236.8 1141.5l9.4 9.4 M1236.8 1150.9l9.4 -9.4" stroke="#008000" stroke-width="3.6" fill="none"/>
<path d="M1275.4 1140.3v12.5 M1269.2 1146.5h12.5 M1270.8 1141.9l9.4 9.4 M1270.8 1151.2l9.4 -9.4" stroke="#008000" stroke-width="3.6" fill="none"/>
<path d="M1309.4 1141.7v12.5 M1303.2 1147.9h12.5 M1304.8 1143.2l9.4 9.4 M1304.8 1152.6l9.4 -9.4" stroke="#008000" stroke-width="3.6" fill="none"/>
<path d="M867.4 777.4v12.5 M861.2 783.7h12.5 M862.7 779l9.4 9.4 M862.7 788.4l9.4 -9.4" stroke="#6d3535" stroke-width="3.6" fill="none"/>
<path d="M901.4 855.8v12.5 M895.2 862h12.5 M896.7 857.3l9.4 9.4 M896.7 866.7l9.4 -9.4" stroke="#6d3535" stroke-width="3.6" fill="none"/>
<path d="M935.4 909.4v12.5 M929.2 915.7h12.5 M930.7 911l9.4 9.4 M930.7 920.4l9.4 -9.4" stroke="#6d3535" stroke-width="3.6" fill="none"/>
<path d="M969.4 923.5v12.5 M963.2 929.7h12.5 M964.7 925l9.4 9.4 M964.7 934.4l9.4 -9.4" stroke="#6d3535" stroke-width="3.6" fill="none"/>
<path d="M1003.4 952.5v12.5 M997.2 958.8h12.5 M998.7 954.1l9.4 9.4 M998.7 963.5l9.4 -9.4" stroke="#6d3535" stroke-width="3.6" fill="none"/>
<path d="M1037.4 967.6v12.5 M1031.2 973.8h12.5 M1032.7 969.1l9.4 9.4 M1032.7 978.5l9.4 -9.4" stroke="#6d3535" stroke-width="3.6" fill="none"/>
<path d="M1071.4 980.2v12.5 M1065.2 986.5h12.5 M1066.7 981.8l9.4 9.4 M1066.7 991.2l9.4 -9.4" stroke="#6d3535" stroke-width="3.6" fill="none"/>
<path d="M1105.4 990.8v12.5 M1099.2 997.1h12.5 M1100.7 992.4l9.4 9.4 M1100.7 1001.8l9.4 -9.4" stroke="#6d3535" stroke-width="3.6" fill="none"/>
<path d="M1139.4 995.6v12.5 M1133.2 1001.9h12.5 M1134.7 997.2l9.4 9.4 M1134.7 1006.6l9.4 -9.4" stroke="#6d3535" stroke-width="3.6" fill="none"/>
<path d="M1173.4 999v12.5 M1167.2 1005.3h12.5 M1168.7 1000.6l9.4 9.4 M1168.7 1010l9.4 -9.4" stroke="#6d3535" stroke-width="3.6" fill="none"/>
<path d="M1207.4 1009v12.5 M1201.2 1015.2h12.5 M1202.8 1010.5l9.4 9.4 M1202.8 1019.9l9.4 -9.4" stroke="#6d3535" stroke-width="3.6" fill="none"/>
<path d="M1241.4 1021.6v12.5 M1235.2 1027.9h12.5 M1236.8 1023.2l9.4 9.4 M1236.8 1032.6l9.4 -9.4" stroke="#6d3535" stroke-width="3.6" fill="none"/>
<path d="M1275.4 1025v12.5 M1269.2 1031.3h12.5 M1270.8 1026.6l9.4 9.4 M1270.8 1036l9.4 -9.4" stroke="#6d3535" stroke-width="3.6" fill="none"/>
<path d="M1309.4 1030.9v12.5 M1303.2 1037.1h12.5 M1304.8 1032.4l9.4 9.4 M1304.8 1041.8l9.4 -9.4" stroke="#6d3535" stroke-width="3.6" fill="none"/>
<rect x="1110.1" y="779.6" width="205.2" height="197.2" fill="#fff" stroke="#262626" stroke-width="3"/>
<path d="M1117 806.9H1131 M1139 806.9H1159" stroke="#0000ff" stroke-width="3"/>
<path d="M1144.6 800.9L1149.8 806.9L1144.6 812.9L1139.4 806.9Z" stroke="#0000ff" stroke-width="3.0" fill="none"/>
<text x="1178.5" y="817.4" font-size="39" fill="#000" font-family='"Liberation Serif", serif' textLength="128.5" lengthAdjust="spacingAndGlyphs"><tspan font-style="italic">ζ</tspan> = 1/2</text>
<path d="M1117 854.8H1131 M1139 854.8H1159" stroke="#ff0000" stroke-width="3"/>
<rect x="1140.5" y="850.8" width="8.1" height="8.1" stroke="#ff0000" stroke-width="3.4" fill="none" stroke-linejoin="round"/>
<text x="1178.5" y="865.3" font-size="39" fill="#000" font-family='"Liberation Serif", serif' textLength="88" lengthAdjust="spacingAndGlyphs"><tspan font-style="italic">ζ</tspan> = 2</text>
<path d="M1117 902.7H1131 M1139 902.7H1159" stroke="#008000" stroke-width="3"/>
<path d="M1144.6 896.9v11.5 M1138.8 902.7h11.5 M1140.3 898.4l8.6 8.6 M1140.3 907l8.6 -8.6" stroke="#008000" stroke-width="3.4" fill="none"/>
<text x="1178.5" y="913.2" font-size="39" fill="#000" font-family='"Liberation Serif", serif' textLength="88" lengthAdjust="spacingAndGlyphs"><tspan font-style="italic">ζ</tspan> = 3</text>
<path d="M1117 950.6H1131 M1139 950.6H1159" stroke="#6d3535" stroke-width="3"/>
<path d="M1144.6 944.8v11.5 M1138.8 950.6h11.5 M1140.3 946.3l8.6 8.6 M1140.3 954.9l8.6 -8.6" stroke="#6d3535" stroke-width="3.4" fill="none"/>
<text x="1178.5" y="961.1" font-size="39" fill="#000" font-family='"Liberation Serif", serif' textLength="88" lengthAdjust="spacingAndGlyphs"><tspan font-style="italic">ζ</tspan> = 4</text>
<rect x="816.4" y="765.9" width="512.9" height="513" fill="none" stroke="#262626" stroke-width="3.4"/>
<path d="M816.4 1278.9v-8 M816.4 765.9v8 M943 1278.9v-8 M943 765.9v8 M1069.7 1278.9v-8 M1069.7 765.9v8 M1196.3 1278.9v-8 M1196.3 765.9v8 M1323 1278.9v-8 M1323 765.9v8 M816.4 1278.9h8 M1329.3 1278.9h-8 M816.4 1107.9h8 M1329.3 1107.9h-8 M816.4 936.9h8 M1329.3 936.9h-8 M816.4 765.9h8 M1329.3 765.9h-8" stroke="#262626" stroke-width="3" fill="none"/>
<text x="816.4" y="1334.6" font-size="47" text-anchor="middle" fill="#262626">0</text>
<text x="943" y="1334.6" font-size="47" text-anchor="middle" fill="#262626">2</text>
<text x="1069.7" y="1334.6" font-size="47" text-anchor="middle" fill="#262626">4</text>
<text x="1196.3" y="1334.6" font-size="47" text-anchor="middle" fill="#262626">6</text>
<text x="1323" y="1334.6" font-size="47" text-anchor="middle" fill="#262626">8</text>
<text x="802.5" y="1295.5" font-size="47" text-anchor="end" fill="#262626">0</text>
<text x="802.5" y="1124.5" font-size="47" text-anchor="end" fill="#262626">5</text>
<text x="802.5" y="953.5" font-size="47" text-anchor="end" fill="#262626">10</text>
<text x="802.5" y="782.5" font-size="47" text-anchor="end" fill="#262626">15</text>
<text transform="translate(733.5 1020) rotate(-90)" font-size="48" text-anchor="middle" fill="#262626" font-family='"Liberation Serif", serif' textLength="194" lengthAdjust="spacingAndGlyphs">NS<tspan font-size="32" font-style="italic" dy="9">ζ</tspan><tspan dy="-9" dx="3">(</tspan><tspan font-style="italic">z</tspan>, <tspan font-style="italic">z</tspan>′)</text>
<text x="1072.8" y="1385.5" font-size="48" text-anchor="middle" fill="#262626" font-family='"Liberation Serif", serif' textLength="273" lengthAdjust="spacingAndGlyphs">|<tspan font-style="italic">z</tspan> − <tspan font-style="italic">z</tspan>′| (<tspan font-style="italic">mm</tspan>)</text>
<text x="1304.7" y="1385.5" font-size="46" text-anchor="middle" fill="#000" font-family='"Liberation Serif", serif'>(c)</text>
<clipPath id="cd"><rect x="141.2" y="1495.6" width="513.1" height="513.4"/></clipPath>
<path d="M144.2 2014 L155.5 1995.8 L202.8 1912.6 L242.1 1850.8 L275.3 1805.4 L303.9 1771.5 L329.1 1744.5 L352.5 1711.8 L372.9 1691.9 L391.6 1677.5 L408.7 1665.2 L424.5 1654.8 L439.3 1639.6 L453.1 1628.9 L466.1 1618.5 L478.3 1611.2 L489.9 1605 L500.9 1595.2 L511.3 1588.4 L521.3 1582.1 L530.8 1578.1 L539.9 1574.1 L548.6 1568.1 L557 1562.9 L565.1 1557.9 L572.9 1554.9 L580.4 1552 L587.6 1550" stroke="#ff0000" stroke-width="3.2" fill="none" stroke-linejoin="round" clip-path="url(#cd)"/>
<path d="M155.6 1787.7 L200.4 1752.3 L244.1 1716.9 L285.7 1679.4 L327.3 1644 L369 1605.5 L409.1 1568.7 L430 1547.9 L448.7 1529.1 L469.5 1508.3 L481 1496" stroke="#000000" stroke-width="3.8" fill="none" stroke-linejoin="round" stroke-dasharray="13 9" clip-path="url(#cd)"/>
<path d="M156.5 1968.5V1983.9 M151 1968.5h11 M151 1983.9h11" stroke="#ff0000" stroke-width="2.8" fill="none"/>
<path d="M156.5 1970.4v11.5 M150.7 1976.2h11.5 M152.2 1971.8l8.6 8.6 M152.2 1980.5l8.6 -8.6" stroke="#ff0000" stroke-width="3.4" fill="none"/>
<path d="M204.2 1885.6V1899.2 M198.7 1885.6h11 M198.7 1899.2h11" stroke="#ff0000" stroke-width="2.8" fill="none"/>
<path d="M204.2 1886.6v11.5 M198.5 1892.4h11.5 M199.9 1888.1l8.6 8.6 M199.9 1896.7l8.6 -8.6" stroke="#ff0000" stroke-width="3.4" fill="none"/>
<path d="M243.2 1822.7V1843.9 M237.7 1822.7h11 M237.7 1843.9h11" stroke="#ff0000" stroke-width="2.8" fill="none"/>
<path d="M243.2 1827.5v11.5 M237.5 1833.3h11.5 M238.9 1829l8.6 8.6 M238.9 1837.6l8.6 -8.6" stroke="#ff0000" stroke-width="3.4" fill="none"/>
<path d="M276.2 1781.6V1803.2 M270.7 1781.6h11 M270.7 1803.2h11" stroke="#ff0000" stroke-width="2.8" fill="none"/>
<path d="M276.2 1786.7v11.5 M270.5 1792.4h11.5 M271.9 1788.1l8.6 8.6 M271.9 1796.7l8.6 -8.6" stroke="#ff0000" stroke-width="3.4" fill="none"/>
<path d="M304.8 1756.8V1775 M299.3 1756.8h11 M299.3 1775h11" stroke="#ff0000" stroke-width="2.8" fill="none"/>
<path d="M304.8 1760.2v11.5 M299 1765.9h11.5 M300.5 1761.6l8.6 8.6 M300.5 1770.2l8.6 -8.6" stroke="#ff0000" stroke-width="3.4" fill="none"/>
<path d="M330 1727.9V1756.9 M324.5 1727.9h11 M324.5 1756.9h11" stroke="#ff0000" stroke-width="2.8" fill="none"/>
<path d="M330 1736.7v11.5 M324.2 1742.4h11.5 M325.7 1738.1l8.6 8.6 M325.7 1746.7l8.6 -8.6" stroke="#ff0000" stroke-width="3.4" fill="none"/>
<path d="M352.5 1700.8V1720.8 M347 1700.8h11 M347 1720.8h11" stroke="#ff0000" stroke-width="2.8" fill="none"/>
<path d="M352.5 1705.1v11.5 M346.8 1710.8h11.5 M348.2 1706.5l8.6 8.6 M348.2 1715.2l8.6 -8.6" stroke="#ff0000" stroke-width="3.4" fill="none"/>
<path d="M372.9 1682.9V1698.9 M367.4 1682.9h11 M367.4 1698.9h11" stroke="#ff0000" stroke-width="2.8" fill="none"/>
<path d="M372.9 1685.2v11.5 M367.2 1690.9h11.5 M368.6 1686.6l8.6 8.6 M368.6 1695.2l8.6 -8.6" stroke="#ff0000" stroke-width="3.4" fill="none"/>
<path d="M391.6 1668.5V1684.5 M386.1 1668.5h11 M386.1 1684.5h11" stroke="#ff0000" stroke-width="2.8" fill="none"/>
<path d="M391.6 1670.7v11.5 M385.8 1676.5h11.5 M387.2 1672.1l8.6 8.6 M387.2 1680.8l8.6 -8.6" stroke="#ff0000" stroke-width="3.4" fill="none"/>
<path d="M408.7 1656.2V1672.2 M403.2 1656.2h11 M403.2 1672.2h11" stroke="#ff0000" stroke-width="2.8" fill="none"/>
<path d="M408.7 1658.4v11.5 M402.9 1664.2h11.5 M404.4 1659.9l8.6 8.6 M404.4 1668.5l8.6 -8.6" stroke="#ff0000" stroke-width="3.4" fill="none"/>
<path d="M424.5 1645.8V1661.8 M419 1645.8h11 M419 1661.8h11" stroke="#ff0000" stroke-width="2.8" fill="none"/>
<path d="M424.5 1648.1v11.5 M418.8 1653.8h11.5 M420.2 1649.5l8.6 8.6 M420.2 1658.2l8.6 -8.6" stroke="#ff0000" stroke-width="3.4" fill="none"/>
<path d="M439.3 1630.6V1646.6 M433.8 1630.6h11 M433.8 1646.6h11" stroke="#ff0000" stroke-width="2.8" fill="none"/>
<path d="M439.3 1632.8v11.5 M433.6 1638.6h11.5 M435 1634.3l8.6 8.6 M435 1642.9l8.6 -8.6" stroke="#ff0000" stroke-width="3.4" fill="none"/>
<path d="M453.1 1619.9V1635.9 M447.6 1619.9h11 M447.6 1635.9h11" stroke="#ff0000" stroke-width="2.8" fill="none"/>
<path d="M453.1 1622.2v11.5 M447.4 1627.9h11.5 M448.8 1623.6l8.6 8.6 M448.8 1632.2l8.6 -8.6" stroke="#ff0000" stroke-width="3.4" fill="none"/>
<path d="M466.1 1609.5V1625.5 M460.6 1609.5h11 M460.6 1625.5h11" stroke="#ff0000" stroke-width="2.8" fill="none"/>
<path d="M466.1 1611.8v11.5 M460.3 1617.5h11.5 M461.8 1613.2l8.6 8.6 M461.8 1621.8l8.6 -8.6" stroke="#ff0000" stroke-width="3.4" fill="none"/>
<path d="M478.3 1602.2V1618.2 M472.8 1602.2h11 M472.8 1618.2h11" stroke="#ff0000" stroke-width="2.8" fill="none"/>
<path d="M478.3 1604.5v11.5 M472.6 1610.2h11.5 M474 1605.9l8.6 8.6 M474 1614.5l8.6 -8.6" stroke="#ff0000" stroke-width="3.4" fill="none"/>
<path d="M489.9 1596V1612 M484.4 1596h11 M484.4 1612h11" stroke="#ff0000" stroke-width="2.8" fill="none"/>
<path d="M489.9 1598.3v11.5 M484.1 1604h11.5 M485.6 1599.7l8.6 8.6 M485.6 1608.4l8.6 -8.6" stroke="#ff0000" stroke-width="3.4" fill="none"/>
<path d="M500.9 1586.2V1602.2 M495.4 1586.2h11 M495.4 1602.2h11" stroke="#ff0000" stroke-width="2.8" fill="none"/>
<path d="M500.9 1588.5v11.5 M495.1 1594.2h11.5 M496.5 1589.9l8.6 8.6 M496.5 1598.6l8.6 -8.6" stroke="#ff0000" stroke-width="3.4" fill="none"/>
<path d="M511.3 1579.4V1595.4 M505.8 1579.4h11 M505.8 1595.4h11" stroke="#ff0000" stroke-width="2.8" fill="none"/>
<path d="M511.3 1581.6v11.5 M505.6 1587.4h11.5 M507 1583.1l8.6 8.6 M507 1591.7l8.6 -8.6" stroke="#ff0000" stroke-width="3.4" fill="none"/>
<path d="M521.3 1573.1V1589.1 M515.8 1573.1h11 M515.8 1589.1h11" stroke="#ff0000" stroke-width="2.8" fill="none"/>
<path d="M521.3 1575.3v11.5 M515.5 1581.1h11.5 M516.9 1576.8l8.6 8.6 M516.9 1585.4l8.6 -8.6" stroke="#ff0000" stroke-width="3.4" fill="none"/>
<path d="M530.8 1569.1V1585.1 M525.3 1569.1h11 M525.3 1585.1h11" stroke="#ff0000" stroke-width="2.8" fill="none"/>
<path d="M530.8 1571.3v11.5 M525 1577.1h11.5 M526.5 1572.8l8.6 8.6 M526.5 1581.4l8.6 -8.6" stroke="#ff0000" stroke-width="3.4" fill="none"/>
<path d="M539.9 1565.1V1581.1 M534.4 1565.1h11 M534.4 1581.1h11" stroke="#ff0000" stroke-width="2.8" fill="none"/>
<path d="M539.9 1567.4v11.5 M534.1 1573.1h11.5 M535.6 1568.8l8.6 8.6 M535.6 1577.5l8.6 -8.6" stroke="#ff0000" stroke-width="3.4" fill="none"/>
<path d="M548.6 1559.1V1575.1 M543.1 1559.1h11 M543.1 1575.1h11" stroke="#ff0000" stroke-width="2.8" fill="none"/>
<path d="M548.6 1561.3v11.5 M542.9 1567.1h11.5 M544.3 1562.8l8.6 8.6 M544.3 1571.4l8.6 -8.6" stroke="#ff0000" stroke-width="3.4" fill="none"/>
<path d="M557 1553.9V1569.9 M551.5 1553.9h11 M551.5 1569.9h11" stroke="#ff0000" stroke-width="2.8" fill="none"/>
<path d="M557 1556.2v11.5 M551.3 1561.9h11.5 M552.7 1557.6l8.6 8.6 M552.7 1566.2l8.6 -8.6" stroke="#ff0000" stroke-width="3.4" fill="none"/>
<path d="M565.1 1548.9V1564.9 M559.6 1548.9h11 M559.6 1564.9h11" stroke="#ff0000" stroke-width="2.8" fill="none"/>
<path d="M565.1 1551.1v11.5 M559.3 1556.9h11.5 M560.8 1552.6l8.6 8.6 M560.8 1561.2l8.6 -8.6" stroke="#ff0000" stroke-width="3.4" fill="none"/>
<path d="M572.9 1545.9V1561.9 M567.4 1545.9h11 M567.4 1561.9h11" stroke="#ff0000" stroke-width="2.8" fill="none"/>
<path d="M572.9 1548.2v11.5 M567.1 1553.9h11.5 M568.5 1549.6l8.6 8.6 M568.5 1558.3l8.6 -8.6" stroke="#ff0000" stroke-width="3.4" fill="none"/>
<path d="M580.4 1543V1559 M574.9 1543h11 M574.9 1559h11" stroke="#ff0000" stroke-width="2.8" fill="none"/>
<path d="M580.4 1545.3v11.5 M574.6 1551h11.5 M576.1 1546.7l8.6 8.6 M576.1 1555.4l8.6 -8.6" stroke="#ff0000" stroke-width="3.4" fill="none"/>
<path d="M587.6 1539.6V1558.4 M582.1 1539.6h11 M582.1 1558.4h11" stroke="#ff0000" stroke-width="2.8" fill="none"/>
<path d="M587.6 1543.2v11.5 M581.9 1549h11.5 M583.3 1544.7l8.6 8.6 M583.3 1553.3l8.6 -8.6" stroke="#ff0000" stroke-width="3.4" fill="none"/>
<rect x="356.7" y="1919.4" width="276.9" height="55.3" fill="#fff" stroke="#262626" stroke-width="3.4"/>
<path d="M362.6 1946.6H376.9 M391.2 1946.6H404.7" stroke="#000" stroke-width="3.8"/>
<text x="424.5" y="1957.5" font-size="40" fill="#000" font-family='"Liberation Serif", serif' textLength="160" lengthAdjust="spacingAndGlyphs">∼ |<tspan font-style="italic">z</tspan> − <tspan font-style="italic">z</tspan>′|</text>
<text x="585" y="1943.8" font-size="28" fill="#000" font-family='"Liberation Serif", serif' textLength="39.3" lengthAdjust="spacingAndGlyphs">2/3</text>
<rect x="141.2" y="1495.6" width="513.1" height="513.4" fill="none" stroke="#262626" stroke-width="3.4"/>
<path d="M141.2 2009v-8 M141.2 1495.6v8 M633.9 2009v-8 M633.9 1495.6v8 M141.2 1895.3h8 M654.3 1895.3h-8 M141.2 1735.1h8 M654.3 1735.1h-8 M141.2 1621.4h8 M654.3 1621.4h-8 M141.2 1533.3h8 M654.3 1533.3h-8 M289.5 2009v-5 M289.5 1495.6v5 M376.3 2009v-5 M376.3 1495.6v5 M437.8 2009v-5 M437.8 1495.6v5 M485.6 2009v-5 M485.6 1495.6v5 M524.6 2009v-5 M524.6 1495.6v5 M557.6 2009v-5 M557.6 1495.6v5 M586.2 2009v-5 M586.2 1495.6v5 M611.4 2009v-5 M611.4 1495.6v5 M141.2 1948.1h5 M654.3 1948.1h-5 M141.2 1848.8h5 M654.3 1848.8h-5 M141.2 1807.2h5 M654.3 1807.2h-5 M141.2 1769.5h5 M654.3 1769.5h-5 M141.2 1703.5h5 M654.3 1703.5h-5 M141.2 1674.2h5 M654.3 1674.2h-5 M141.2 1646.9h5 M654.3 1646.9h-5 M141.2 1597.5h5 M654.3 1597.5h-5 M141.2 1574.9h5 M654.3 1574.9h-5 M141.2 1553.5h5 M654.3 1553.5h-5 M141.2 1514h5 M654.3 1514h-5" stroke="#262626" stroke-width="3" fill="none"/>
<text x="127.5" y="1911.9" font-size="47" text-anchor="end" fill="#262626">0.4</text>
<text x="127.5" y="1751.7" font-size="47" text-anchor="end" fill="#262626">0.6</text>
<text x="127.5" y="1638" font-size="47" text-anchor="end" fill="#262626">0.8</text>
<text x="127.5" y="1549.9" font-size="47" text-anchor="end" fill="#262626">1</text>
<text x="156.4" y="2076.9" font-size="46" fill="#262626" text-anchor="end" textLength="49" lengthAdjust="spacingAndGlyphs">10</text>
<text x="157.7" y="2055.5" font-size="36" fill="#262626">0</text>
<text x="649.1" y="2076.9" font-size="46" fill="#262626" text-anchor="end" textLength="49" lengthAdjust="spacingAndGlyphs">10</text>
<text x="647.4" y="2055.5" font-size="36" fill="#262626">1</text>
<text transform="translate(38 1753) rotate(-90)" font-size="48" text-anchor="middle" fill="#262626" font-family='"Liberation Serif", serif' textLength="159" lengthAdjust="spacingAndGlyphs"><tspan font-style="italic">S</tspan><tspan font-size="32" dy="9">2</tspan><tspan dy="-9" dx="3">(</tspan><tspan font-style="italic">z</tspan>, <tspan font-style="italic">z</tspan>′)</text>
<text x="397.8" y="2128" font-size="48" text-anchor="middle" fill="#262626" font-family='"Liberation Serif", serif' textLength="276" lengthAdjust="spacingAndGlyphs">|<tspan font-style="italic">z</tspan> − <tspan font-style="italic">z</tspan>′| (<tspan font-style="italic">mm</tspan>)</text>
<text x="634.2" y="2128" font-size="46" text-anchor="middle" fill="#000" font-family='"Liberation Serif", serif'>(d)</text>
<clipPath id="ce"><rect x="816.8" y="1495.6" width="512.6" height="513.4"/></clipPath>
<path d="M830.6 1826.1 L985.6 1687.8 L1040 1635 L1069 1606 L1173.8 1496.7" stroke="#000000" stroke-width="3.8" fill="none" stroke-linejoin="round" stroke-dasharray="13 9" clip-path="url(#ce)"/>
<path d="M837.2 1898.3 L985.3 1766.6 L1072 1688.6 L1133.5 1637.6 L1181.2 1602.6 L1220.2 1579.3 L1253.2 1560.2 L1281.7 1548.2 L1306.9 1530.5 L1329.4 1525.8" stroke="#0000ff" stroke-width="3.8" fill="none" stroke-linejoin="round"/>
<path d="M837.2 1896.3 L985.3 1776 L1072 1698.6 L1133.5 1651.7 L1181.2 1614.1 L1220.2 1589.2 L1253.2 1567.1 L1281.7 1554.8 L1306.9 1538 L1329.4 1527" stroke="#ff0000" stroke-width="3.8" fill="none" stroke-linejoin="round"/>
<path d="M837.2 1916.6 L985.3 1789.4 L1072 1708.4 L1133.5 1653.8 L1181.2 1616 L1220.2 1586.9 L1253.2 1562.8 L1281.7 1546.9 L1306.9 1533.7 L1329.4 1525.8" stroke="#008000" stroke-width="3.8" fill="none" stroke-linejoin="round"/>
<path d="M837.2 1893.7L841.7 1898.3L837.2 1902.8L832.6 1898.3Z" stroke="#0000ff" stroke-width="3.5" fill="none" stroke-linejoin="miter"/>
<path d="M985.3 1762.1L989.9 1766.6L985.3 1771.2L980.8 1766.6Z" stroke="#0000ff" stroke-width="3.5" fill="none" stroke-linejoin="miter"/>
<path d="M1072 1684L1076.6 1688.6L1072 1693.1L1067.5 1688.6Z" stroke="#0000ff" stroke-width="3.5" fill="none" stroke-linejoin="miter"/>
<path d="M1133.5 1633L1138.1 1637.6L1133.5 1642.1L1129 1637.6Z" stroke="#0000ff" stroke-width="3.5" fill="none" stroke-linejoin="miter"/>
<path d="M1181.2 1598.1L1185.8 1602.6L1181.2 1607.2L1176.7 1602.6Z" stroke="#0000ff" stroke-width="3.5" fill="none" stroke-linejoin="miter"/>
<path d="M1220.2 1574.8L1224.8 1579.3L1220.2 1583.9L1215.7 1579.3Z" stroke="#0000ff" stroke-width="3.5" fill="none" stroke-linejoin="miter"/>
<path d="M1253.2 1555.7L1257.7 1560.2L1253.2 1564.8L1248.6 1560.2Z" stroke="#0000ff" stroke-width="3.5" fill="none" stroke-linejoin="miter"/>
<path d="M1281.7 1543.6L1286.2 1548.2L1281.7 1552.7L1277.1 1548.2Z" stroke="#0000ff" stroke-width="3.5" fill="none" stroke-linejoin="miter"/>
<path d="M1306.9 1526L1311.4 1530.5L1306.9 1535.1L1302.3 1530.5Z" stroke="#0000ff" stroke-width="3.5" fill="none" stroke-linejoin="miter"/>
<path d="M1329.4 1521.3L1334 1525.8L1329.4 1530.4L1324.9 1525.8Z" stroke="#0000ff" stroke-width="3.5" fill="none" stroke-linejoin="miter"/>
<circle cx="837.2" cy="1896.3" r="4.7" stroke="#ff0000" stroke-width="3.7" fill="none"/>
<circle cx="985.3" cy="1776" r="4.7" stroke="#ff0000" stroke-width="3.7" fill="none"/>
<circle cx="1072" cy="1698.6" r="4.7" stroke="#ff0000" stroke-width="3.7" fill="none"/>
<circle cx="1133.5" cy="1651.7" r="4.7" stroke="#ff0000" stroke-width="3.7" fill="none"/>
<circle cx="1181.2" cy="1614.1" r="4.7" stroke="#ff0000" stroke-width="3.7" fill="none"/>
<circle cx="1220.2" cy="1589.2" r="4.7" stroke="#ff0000" stroke-width="3.7" fill="none"/>
<circle cx="1253.2" cy="1567.1" r="4.7" stroke="#ff0000" stroke-width="3.7" fill="none"/>
<circle cx="1281.7" cy="1554.8" r="4.7" stroke="#ff0000" stroke-width="3.7" fill="none"/>
<circle cx="1306.9" cy="1538" r="4.7" stroke="#ff0000" stroke-width="3.7" fill="none"/>
<circle cx="1329.4" cy="1527" r="4.7" stroke="#ff0000" stroke-width="3.7" fill="none"/>
<rect x="833.2" y="1912.7" width="7.9" height="7.9" stroke="#008000" stroke-width="3.7" fill="none" stroke-linejoin="round"/>
<rect x="981.4" y="1785.4" width="7.9" height="7.9" stroke="#008000" stroke-width="3.7" fill="none" stroke-linejoin="round"/>
<rect x="1068.1" y="1704.4" width="7.9" height="7.9" stroke="#008000" stroke-width="3.7" fill="none" stroke-linejoin="round"/>
<rect x="1129.6" y="1649.9" width="7.9" height="7.9" stroke="#008000" stroke-width="3.7" fill="none" stroke-linejoin="round"/>
<rect x="1177.3" y="1612.1" width="7.9" height="7.9" stroke="#008000" stroke-width="3.7" fill="none" stroke-linejoin="round"/>
<rect x="1216.3" y="1583" width="7.9" height="7.9" stroke="#008000" stroke-width="3.7" fill="none" stroke-linejoin="round"/>
<rect x="1249.2" y="1558.8" width="7.9" height="7.9" stroke="#008000" stroke-width="3.7" fill="none" stroke-linejoin="round"/>
<rect x="1277.7" y="1543" width="7.9" height="7.9" stroke="#008000" stroke-width="3.7" fill="none" stroke-linejoin="round"/>
<rect x="1302.9" y="1529.7" width="7.9" height="7.9" stroke="#008000" stroke-width="3.7" fill="none" stroke-linejoin="round"/>
<rect x="1325.5" y="1521.9" width="7.9" height="7.9" stroke="#008000" stroke-width="3.7" fill="none" stroke-linejoin="round"/>
<rect x="985" y="1919.4" width="330" height="55.4" fill="#fff" stroke="#262626" stroke-width="3.4"/>
<path d="M991.1 1946.7H1005.8 M1017.8 1946.7H1032.5" stroke="#000" stroke-width="3.8"/>
<text x="1052.6" y="1957.5" font-size="40" fill="#000" font-family='"Liberation Serif", serif' textLength="207.4" lengthAdjust="spacingAndGlyphs">∼ (<tspan font-style="italic">v̄</tspan><tspan font-size="27" font-style="italic" dy="7">z</tspan><tspan dy="-7">|</tspan><tspan font-style="italic">t</tspan>′ − <tspan font-style="italic">t</tspan>|)</text>
<text x="1266.8" y="1943.8" font-size="28" fill="#000" font-family='"Liberation Serif", serif' textLength="38.8" lengthAdjust="spacingAndGlyphs">2/3</text>
<rect x="816.8" y="1495.6" width="512.6" height="513.4" fill="none" stroke="#262626" stroke-width="3.4"/>
<path d="M816.8 2009v-8 M816.8 1495.6v8 M1309 2009v-8 M1309 1495.6v8 M816.8 1895.3h8 M1329.4 1895.3h-8 M816.8 1735.1h8 M1329.4 1735.1h-8 M816.8 1621.4h8 M1329.4 1621.4h-8 M816.8 1533.3h8 M1329.4 1533.3h-8 M965 2009v-5 M965 1495.6v5 M1051.7 2009v-5 M1051.7 1495.6v5 M1113.1 2009v-5 M1113.1 1495.6v5 M1160.9 2009v-5 M1160.9 1495.6v5 M1199.8 2009v-5 M1199.8 1495.6v5 M1232.8 2009v-5 M1232.8 1495.6v5 M1261.3 2009v-5 M1261.3 1495.6v5 M1286.5 2009v-5 M1286.5 1495.6v5 M816.8 1948.1h5 M1329.4 1948.1h-5 M816.8 1848.8h5 M1329.4 1848.8h-5 M816.8 1807.2h5 M1329.4 1807.2h-5 M816.8 1769.5h5 M1329.4 1769.5h-5 M816.8 1703.5h5 M1329.4 1703.5h-5 M816.8 1674.2h5 M1329.4 1674.2h-5 M816.8 1646.9h5 M1329.4 1646.9h-5 M816.8 1597.5h5 M1329.4 1597.5h-5 M816.8 1574.9h5 M1329.4 1574.9h-5 M816.8 1553.5h5 M1329.4 1553.5h-5 M816.8 1514h5 M1329.4 1514h-5" stroke="#262626" stroke-width="3" fill="none"/>
<text x="803" y="1911.9" font-size="47" text-anchor="end" fill="#262626">0.4</text>
<text x="803" y="1751.7" font-size="47" text-anchor="end" fill="#262626">0.6</text>
<text x="803" y="1638" font-size="47" text-anchor="end" fill="#262626">0.8</text>
<text x="803" y="1549.9" font-size="47" text-anchor="end" fill="#262626">1</text>
<text x="832" y="2076.9" font-size="46" fill="#262626" text-anchor="end" textLength="49" lengthAdjust="spacingAndGlyphs">10</text>
<text x="833.3" y="2055.5" font-size="36" fill="#262626">0</text>
<text x="1324.2" y="2076.9" font-size="46" fill="#262626" text-anchor="end" textLength="49" lengthAdjust="spacingAndGlyphs">10</text>
<text x="1322.5" y="2055.5" font-size="36" fill="#262626">1</text>
<text transform="translate(717.5 1750) rotate(-90)" font-size="48" text-anchor="middle" fill="#262626" font-family='"Liberation Serif", serif' textLength="195" lengthAdjust="spacingAndGlyphs"><tspan font-style="italic">S</tspan><tspan font-size="32" dy="8">2</tspan><tspan font-size="32" dx="-16" dy="-28">Tay</tspan><tspan dy="20">(</tspan><tspan font-style="italic">t</tspan>, <tspan font-style="italic">t</tspan>′)</text>
<text x="1071" y="2128" font-size="48" text-anchor="middle" fill="#262626" font-family='"Liberation Serif", serif' textLength="310" lengthAdjust="spacingAndGlyphs"><tspan font-style="italic">v̄</tspan><tspan font-size="32" font-style="italic" dy="8">z</tspan><tspan dy="-8">|</tspan><tspan font-style="italic">t</tspan>′ − <tspan font-style="italic">t</tspan>| (<tspan font-style="italic">mm</tspan>)</text>
<text x="1310" y="2128" font-size="46" text-anchor="middle" fill="#000" font-family='"Liberation Serif", serif'>(e)</text>
</svg>
</body></html>
